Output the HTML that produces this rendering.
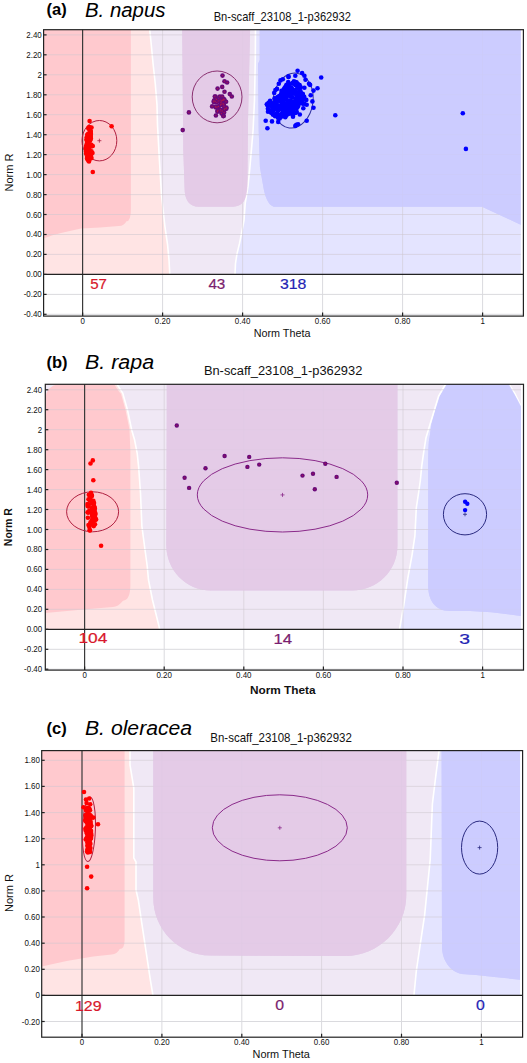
<!DOCTYPE html>
<html><head><meta charset="utf-8"><style>
html,body{margin:0;padding:0;background:#fff;width:527px;height:1063px;overflow:hidden}
svg{display:block}
text{font-family:"Liberation Sans",sans-serif}
</style></head><body>
<svg width="527" height="1063" viewBox="0 0 527 1063">
<rect width="527" height="1063" fill="#fff"/>
<clipPath id="ca"><rect x="43.6" y="29.7" width="479.8" height="244.7"/></clipPath>
<g clip-path="url(#ca)">
<rect x="43.6" y="29.7" width="479.8" height="244.7" fill="#F0E8F5"/>
<polygon points="43.6,29.7 149.7,29.7 150.5,37.0 151.4,46.0 153.1,64.0 155.3,84.0 157.0,105.0 157.5,125.0 159.4,160.0 161.5,195.0 164.9,226.3 167.6,245.0 169.0,260.0 169.8,274.4 43.6,274.4" fill="#FFE4E4" />
<polygon points="523.4,29.7 255.5,29.7 255.3,60.0 254.5,100.0 253.1,130.0 251.4,150.3 249.7,169.5 248.0,186.4 245.2,203.4 244.0,220.3 241.2,235.0 239.5,243.5 237.0,253.8 235.5,263.5 235.0,274.4 523.4,274.4" fill="#E4E4FF" />
<path d="M43.6,29.7 L130.9,29.7 L130.9,209 Q130.9,221.3 126.5,221.3 Q124,226 118.9,226 L100,227.4 L81,228.5 L62,232.7 L52.5,235.2 L43.6,238.4 Z" fill="#FFC9CE" />
<path d="M182.2,29.7 L250.1,29.7 L248,120 L247.4,185 Q247.4,206.7 232.8,206.7 L199,206.7 Q184.6,206.7 184.6,188 L183.3,150 Z" fill="#E3CBE7" />
<path d="M259.7,29.7 L523.4,29.7 L523.4,226 L482,206.7 L273.7,206.7 Q266,204 263.2,186 L259.9,167 L258.7,130 L258,64 L259.7,60 Z" fill="#CCCCFF" />
<polyline points="149.7,29.7 150.5,37.0 151.4,46.0 153.1,64.0 155.3,84.0 157.0,105.0 157.5,125.0 159.4,160.0 161.5,195.0 164.9,226.3 167.6,245.0 169.0,260.0 169.8,274.4" fill="none" stroke="#FFFFFF" stroke-width="1.6" />
<polyline points="255.5,29.7 255.3,60.0 254.5,100.0 253.1,130.0 251.4,150.3 249.7,169.5 248.0,186.4 245.2,203.4 244.0,220.3 241.2,235.0 239.5,243.5 237.0,253.8 235.5,263.5 235.0,274.4" fill="none" stroke="#FFFFFF" stroke-width="1.6" />
<rect x="520.9" y="29.7" width="2.5" height="244.7" fill="#fff"/>
</g>
<line x1="43.6" y1="34.9" x2="523.4" y2="34.9" stroke="#CFC8D0" stroke-width="1" opacity="0.55"/>
<line x1="43.6" y1="54.8" x2="523.4" y2="54.8" stroke="#CFC8D0" stroke-width="1" opacity="0.55"/>
<line x1="43.6" y1="74.8" x2="523.4" y2="74.8" stroke="#CFC8D0" stroke-width="1" opacity="0.55"/>
<line x1="43.6" y1="94.8" x2="523.4" y2="94.8" stroke="#CFC8D0" stroke-width="1" opacity="0.55"/>
<line x1="43.6" y1="114.7" x2="523.4" y2="114.7" stroke="#CFC8D0" stroke-width="1" opacity="0.55"/>
<line x1="43.6" y1="134.7" x2="523.4" y2="134.7" stroke="#CFC8D0" stroke-width="1" opacity="0.55"/>
<line x1="43.6" y1="154.6" x2="523.4" y2="154.6" stroke="#CFC8D0" stroke-width="1" opacity="0.55"/>
<line x1="43.6" y1="174.6" x2="523.4" y2="174.6" stroke="#CFC8D0" stroke-width="1" opacity="0.55"/>
<line x1="43.6" y1="194.6" x2="523.4" y2="194.6" stroke="#CFC8D0" stroke-width="1" opacity="0.55"/>
<line x1="43.6" y1="214.5" x2="523.4" y2="214.5" stroke="#CFC8D0" stroke-width="1" opacity="0.55"/>
<line x1="43.6" y1="234.5" x2="523.4" y2="234.5" stroke="#CFC8D0" stroke-width="1" opacity="0.55"/>
<line x1="43.6" y1="254.4" x2="523.4" y2="254.4" stroke="#CFC8D0" stroke-width="1" opacity="0.55"/>
<line x1="43.6" y1="294.4" x2="523.4" y2="294.4" stroke="#DADADE" stroke-width="1"/>
<line x1="43.6" y1="314.3" x2="523.4" y2="314.3" stroke="#DADADE" stroke-width="1"/>
<line x1="162.6" y1="29.7" x2="162.6" y2="274.4" stroke="#CFC8D0" stroke-width="1" opacity="0.55"/>
<line x1="162.6" y1="274.4" x2="162.6" y2="316.1" stroke="#DADADE" stroke-width="1"/>
<line x1="242.6" y1="29.7" x2="242.6" y2="274.4" stroke="#CFC8D0" stroke-width="1" opacity="0.55"/>
<line x1="242.6" y1="274.4" x2="242.6" y2="316.1" stroke="#DADADE" stroke-width="1"/>
<line x1="322.6" y1="29.7" x2="322.6" y2="274.4" stroke="#CFC8D0" stroke-width="1" opacity="0.55"/>
<line x1="322.6" y1="274.4" x2="322.6" y2="316.1" stroke="#DADADE" stroke-width="1"/>
<line x1="402.6" y1="29.7" x2="402.6" y2="274.4" stroke="#CFC8D0" stroke-width="1" opacity="0.55"/>
<line x1="402.6" y1="274.4" x2="402.6" y2="316.1" stroke="#DADADE" stroke-width="1"/>
<line x1="482.6" y1="29.7" x2="482.6" y2="274.4" stroke="#CFC8D0" stroke-width="1" opacity="0.55"/>
<line x1="482.6" y1="274.4" x2="482.6" y2="316.1" stroke="#DADADE" stroke-width="1"/>
<g clip-path="url(#ca)">
<path d="M182.2,29.7 L250.1,29.7 L248,120 L247.4,185 Q247.4,206.7 232.8,206.7 L199,206.7 Q184.6,206.7 184.6,188 L183.3,150 Z" fill="#E3CBE7" opacity="0.8"/>
<path d="M259.7,29.7 L523.4,29.7 L523.4,226 L482,206.7 L273.7,206.7 Q266,204 263.2,186 L259.9,167 L258.7,130 L258,64 L259.7,60 Z" fill="#CCCCFF" opacity="0.8"/>
<rect x="520.9" y="29.7" width="2.5" height="244.7" fill="#fff"/>
</g>
<line x1="82.6" y1="29.7" x2="82.6" y2="316.1" stroke="#3a3a3a" stroke-width="1.2"/>
<line x1="43.6" y1="274.4" x2="523.4" y2="274.4" stroke="#222" stroke-width="1.3"/>
<ellipse cx="99.4" cy="140.7" rx="17.4" ry="20.2" transform="rotate(0.0 99.4 140.7)" fill="none" stroke="#B02040" stroke-width="1"/>
<path d="M97.4 140.7h4M99.4 138.7v4" stroke="#B02040" stroke-width="0.8"/>
<ellipse cx="217.1" cy="96.9" rx="24.9" ry="25.9" transform="rotate(0.0 217.1 96.9)" fill="none" stroke="#8A3070" stroke-width="1"/>
<path d="M215.1 96.9h4M217.1 94.9v4" stroke="#8A3070" stroke-width="0.8"/>
<ellipse cx="293.0" cy="100.6" rx="20.0" ry="27.6" transform="rotate(8.0 293.0 100.6)" fill="none" stroke="#3030A0" stroke-width="1"/>
<path d="M291.0 100.6h4M293.0 98.6v4" stroke="#3030A0" stroke-width="0.8"/>
<circle cx="89.3" cy="151.7" r="2.3" fill="#FF0000"/>
<circle cx="89.6" cy="154.0" r="2.3" fill="#FF0000"/>
<circle cx="90.7" cy="131.4" r="2.3" fill="#FF0000"/>
<circle cx="89.4" cy="128.7" r="2.3" fill="#FF0000"/>
<circle cx="86.9" cy="145.6" r="2.3" fill="#FF0000"/>
<circle cx="86.1" cy="153.8" r="2.3" fill="#FF0000"/>
<circle cx="87.4" cy="159.2" r="2.3" fill="#FF0000"/>
<circle cx="90.6" cy="134.0" r="2.3" fill="#FF0000"/>
<circle cx="90.5" cy="146.4" r="2.3" fill="#FF0000"/>
<circle cx="88.6" cy="128.4" r="2.3" fill="#FF0000"/>
<circle cx="90.4" cy="153.3" r="2.3" fill="#FF0000"/>
<circle cx="89.9" cy="144.3" r="2.3" fill="#FF0000"/>
<circle cx="88.2" cy="149.4" r="2.3" fill="#FF0000"/>
<circle cx="90.5" cy="158.6" r="2.3" fill="#FF0000"/>
<circle cx="87.5" cy="147.6" r="2.3" fill="#FF0000"/>
<circle cx="86.7" cy="149.7" r="2.3" fill="#FF0000"/>
<circle cx="86.3" cy="147.8" r="2.3" fill="#FF0000"/>
<circle cx="90.2" cy="133.0" r="2.3" fill="#FF0000"/>
<circle cx="90.6" cy="135.0" r="2.3" fill="#FF0000"/>
<circle cx="87.1" cy="156.9" r="2.3" fill="#FF0000"/>
<circle cx="90.7" cy="138.2" r="2.3" fill="#FF0000"/>
<circle cx="87.9" cy="138.1" r="2.3" fill="#FF0000"/>
<circle cx="89.6" cy="139.3" r="2.3" fill="#FF0000"/>
<circle cx="87.8" cy="141.9" r="2.3" fill="#FF0000"/>
<circle cx="90.8" cy="156.8" r="2.3" fill="#FF0000"/>
<circle cx="87.4" cy="149.9" r="2.3" fill="#FF0000"/>
<circle cx="90.9" cy="134.0" r="2.3" fill="#FF0000"/>
<circle cx="90.4" cy="155.2" r="2.3" fill="#FF0000"/>
<circle cx="91.4" cy="144.9" r="2.3" fill="#FF0000"/>
<circle cx="89.2" cy="149.7" r="2.3" fill="#FF0000"/>
<circle cx="91.0" cy="153.2" r="2.3" fill="#FF0000"/>
<circle cx="87.3" cy="149.5" r="2.3" fill="#FF0000"/>
<circle cx="86.7" cy="139.8" r="2.3" fill="#FF0000"/>
<circle cx="90.5" cy="131.8" r="2.3" fill="#FF0000"/>
<circle cx="87.3" cy="145.3" r="2.3" fill="#FF0000"/>
<circle cx="90.8" cy="138.4" r="2.3" fill="#FF0000"/>
<circle cx="88.8" cy="139.6" r="2.3" fill="#FF0000"/>
<circle cx="87.4" cy="148.7" r="2.3" fill="#FF0000"/>
<circle cx="87.3" cy="141.8" r="2.3" fill="#FF0000"/>
<circle cx="89.0" cy="148.0" r="2.3" fill="#FF0000"/>
<circle cx="88.4" cy="134.3" r="2.3" fill="#FF0000"/>
<circle cx="87.2" cy="134.8" r="2.3" fill="#FF0000"/>
<circle cx="88.0" cy="143.7" r="2.3" fill="#FF0000"/>
<circle cx="86.1" cy="151.6" r="2.3" fill="#FF0000"/>
<circle cx="88.8" cy="154.9" r="2.3" fill="#FF0000"/>
<circle cx="88.3" cy="133.9" r="2.3" fill="#FF0000"/>
<circle cx="87.7" cy="145.6" r="2.3" fill="#FF0000"/>
<circle cx="89.0" cy="128.8" r="2.3" fill="#FF0000"/>
<circle cx="90.2" cy="133.3" r="2.3" fill="#FF0000"/>
<circle cx="88.5" cy="127.9" r="2.3" fill="#FF0000"/>
<circle cx="89.8" cy="133.8" r="2.3" fill="#FF0000"/>
<circle cx="89.8" cy="140.5" r="2.3" fill="#FF0000"/>
<circle cx="90.4" cy="136.9" r="2.3" fill="#FF0000"/>
<circle cx="92.0" cy="146.1" r="2.3" fill="#FF0000"/>
<circle cx="86.2" cy="149.8" r="2.3" fill="#FF0000"/>
<circle cx="88.1" cy="147.0" r="2.3" fill="#FF0000"/>
<circle cx="85.9" cy="148.3" r="2.3" fill="#FF0000"/>
<circle cx="89.7" cy="138.2" r="2.3" fill="#FF0000"/>
<circle cx="88.8" cy="136.1" r="2.3" fill="#FF0000"/>
<circle cx="87.1" cy="149.3" r="2.3" fill="#FF0000"/>
<circle cx="86.7" cy="137.2" r="2.3" fill="#FF0000"/>
<circle cx="90.2" cy="140.3" r="2.3" fill="#FF0000"/>
<circle cx="90.9" cy="155.4" r="2.3" fill="#FF0000"/>
<circle cx="89.5" cy="127.0" r="2.3" fill="#FF0000"/>
<circle cx="88.5" cy="140.2" r="2.3" fill="#FF0000"/>
<circle cx="90.7" cy="136.5" r="2.3" fill="#FF0000"/>
<circle cx="88.5" cy="158.1" r="2.3" fill="#FF0000"/>
<circle cx="88.8" cy="127.9" r="2.3" fill="#FF0000"/>
<circle cx="91.5" cy="151.2" r="2.3" fill="#FF0000"/>
<circle cx="89.9" cy="131.7" r="2.3" fill="#FF0000"/>
<circle cx="86.5" cy="139.8" r="2.3" fill="#FF0000"/>
<circle cx="87.2" cy="158.3" r="2.3" fill="#FF0000"/>
<circle cx="90.6" cy="131.0" r="2.3" fill="#FF0000"/>
<circle cx="86.2" cy="145.8" r="2.3" fill="#FF0000"/>
<circle cx="88.4" cy="160.8" r="2.3" fill="#FF0000"/>
<circle cx="89.2" cy="134.6" r="2.3" fill="#FF0000"/>
<circle cx="89.4" cy="146.1" r="2.3" fill="#FF0000"/>
<circle cx="86.9" cy="143.4" r="2.3" fill="#FF0000"/>
<circle cx="88.6" cy="134.0" r="2.3" fill="#FF0000"/>
<circle cx="87.9" cy="149.5" r="2.3" fill="#FF0000"/>
<circle cx="217.6" cy="111.0" r="2.3" fill="#6A0A7A"/>
<circle cx="223.8" cy="104.6" r="2.3" fill="#6A0A7A"/>
<circle cx="223.8" cy="100.5" r="2.3" fill="#6A0A7A"/>
<circle cx="213.9" cy="101.5" r="2.3" fill="#6A0A7A"/>
<circle cx="217.1" cy="106.9" r="2.3" fill="#6A0A7A"/>
<circle cx="215.7" cy="98.3" r="2.3" fill="#6A0A7A"/>
<circle cx="222.1" cy="100.7" r="2.3" fill="#6A0A7A"/>
<circle cx="224.4" cy="99.5" r="2.3" fill="#6A0A7A"/>
<circle cx="223.7" cy="116.0" r="2.3" fill="#6A0A7A"/>
<circle cx="226.3" cy="108.7" r="2.3" fill="#6A0A7A"/>
<circle cx="224.5" cy="109.6" r="2.3" fill="#6A0A7A"/>
<circle cx="224.1" cy="112.4" r="2.3" fill="#6A0A7A"/>
<circle cx="221.5" cy="113.6" r="2.3" fill="#6A0A7A"/>
<circle cx="220.6" cy="104.8" r="2.3" fill="#6A0A7A"/>
<circle cx="222.1" cy="100.4" r="2.3" fill="#6A0A7A"/>
<circle cx="226.1" cy="101.7" r="2.3" fill="#6A0A7A"/>
<circle cx="222.3" cy="110.9" r="2.3" fill="#6A0A7A"/>
<circle cx="215.4" cy="96.6" r="2.3" fill="#6A0A7A"/>
<circle cx="220.4" cy="109.5" r="2.3" fill="#6A0A7A"/>
<circle cx="224.3" cy="109.0" r="2.3" fill="#6A0A7A"/>
<circle cx="218.5" cy="106.4" r="2.3" fill="#6A0A7A"/>
<circle cx="217.5" cy="111.7" r="2.3" fill="#6A0A7A"/>
<circle cx="223.5" cy="99.0" r="2.3" fill="#6A0A7A"/>
<circle cx="216.8" cy="102.3" r="2.3" fill="#6A0A7A"/>
<circle cx="220.9" cy="102.7" r="2.3" fill="#6A0A7A"/>
<circle cx="223.1" cy="103.6" r="2.3" fill="#6A0A7A"/>
<circle cx="221.2" cy="101.8" r="2.3" fill="#6A0A7A"/>
<circle cx="220.6" cy="105.0" r="2.3" fill="#6A0A7A"/>
<circle cx="223.3" cy="99.1" r="2.3" fill="#6A0A7A"/>
<circle cx="215.9" cy="107.4" r="2.3" fill="#6A0A7A"/>
<circle cx="216.5" cy="99.4" r="2.3" fill="#6A0A7A"/>
<circle cx="219.8" cy="96.6" r="2.3" fill="#6A0A7A"/>
<circle cx="226.4" cy="107.6" r="2.3" fill="#6A0A7A"/>
<circle cx="215.2" cy="101.4" r="2.3" fill="#6A0A7A"/>
<circle cx="218.2" cy="100.9" r="2.3" fill="#6A0A7A"/>
<circle cx="223.2" cy="99.6" r="2.3" fill="#6A0A7A"/>
<circle cx="220.1" cy="100.1" r="2.3" fill="#6A0A7A"/>
<circle cx="221.8" cy="104.2" r="2.3" fill="#6A0A7A"/>
<circle cx="215.3" cy="106.5" r="2.3" fill="#6A0A7A"/>
<circle cx="213.8" cy="102.0" r="2.3" fill="#6A0A7A"/>
<circle cx="218.0" cy="110.3" r="2.3" fill="#6A0A7A"/>
<circle cx="225.0" cy="108.4" r="2.3" fill="#6A0A7A"/>
<circle cx="220.9" cy="110.9" r="2.3" fill="#6A0A7A"/>
<circle cx="224.0" cy="106.2" r="2.3" fill="#6A0A7A"/>
<circle cx="214.0" cy="100.6" r="2.3" fill="#6A0A7A"/>
<circle cx="217.6" cy="111.0" r="0.6" fill="#B01848"/>
<circle cx="223.8" cy="104.6" r="0.6" fill="#B01848"/>
<circle cx="223.8" cy="100.5" r="0.6" fill="#B01848"/>
<circle cx="213.9" cy="101.5" r="0.6" fill="#B01848"/>
<circle cx="217.1" cy="106.9" r="0.6" fill="#B01848"/>
<circle cx="215.7" cy="98.3" r="0.6" fill="#B01848"/>
<circle cx="222.1" cy="100.7" r="0.6" fill="#B01848"/>
<circle cx="224.4" cy="99.5" r="0.6" fill="#B01848"/>
<circle cx="223.7" cy="116.0" r="0.6" fill="#B01848"/>
<circle cx="226.3" cy="108.7" r="0.6" fill="#B01848"/>
<circle cx="224.5" cy="109.6" r="0.6" fill="#B01848"/>
<circle cx="224.1" cy="112.4" r="0.6" fill="#B01848"/>
<circle cx="221.5" cy="113.6" r="0.6" fill="#B01848"/>
<circle cx="220.6" cy="104.8" r="0.6" fill="#B01848"/>
<circle cx="222.1" cy="100.4" r="0.6" fill="#B01848"/>
<circle cx="226.1" cy="101.7" r="0.6" fill="#B01848"/>
<circle cx="222.3" cy="110.9" r="0.6" fill="#B01848"/>
<circle cx="215.4" cy="96.6" r="0.6" fill="#B01848"/>
<circle cx="220.4" cy="109.5" r="0.6" fill="#B01848"/>
<circle cx="224.3" cy="109.0" r="0.6" fill="#B01848"/>
<circle cx="218.5" cy="106.4" r="0.6" fill="#B01848"/>
<circle cx="217.5" cy="111.7" r="0.6" fill="#B01848"/>
<circle cx="223.5" cy="99.0" r="0.6" fill="#B01848"/>
<circle cx="216.8" cy="102.3" r="0.6" fill="#B01848"/>
<circle cx="220.9" cy="102.7" r="0.6" fill="#B01848"/>
<circle cx="223.1" cy="103.6" r="0.6" fill="#B01848"/>
<circle cx="221.2" cy="101.8" r="0.6" fill="#B01848"/>
<circle cx="220.6" cy="105.0" r="0.6" fill="#B01848"/>
<circle cx="223.3" cy="99.1" r="0.6" fill="#B01848"/>
<circle cx="215.9" cy="107.4" r="0.6" fill="#B01848"/>
<circle cx="216.5" cy="99.4" r="0.6" fill="#B01848"/>
<circle cx="219.8" cy="96.6" r="0.6" fill="#B01848"/>
<circle cx="226.4" cy="107.6" r="0.6" fill="#B01848"/>
<circle cx="215.2" cy="101.4" r="0.6" fill="#B01848"/>
<circle cx="218.2" cy="100.9" r="0.6" fill="#B01848"/>
<circle cx="223.2" cy="99.6" r="0.6" fill="#B01848"/>
<circle cx="220.1" cy="100.1" r="0.6" fill="#B01848"/>
<circle cx="221.8" cy="104.2" r="0.6" fill="#B01848"/>
<circle cx="215.3" cy="106.5" r="0.6" fill="#B01848"/>
<circle cx="213.8" cy="102.0" r="0.6" fill="#B01848"/>
<circle cx="218.0" cy="110.3" r="0.6" fill="#B01848"/>
<circle cx="225.0" cy="108.4" r="0.6" fill="#B01848"/>
<circle cx="220.9" cy="110.9" r="0.6" fill="#B01848"/>
<circle cx="224.0" cy="106.2" r="0.6" fill="#B01848"/>
<circle cx="214.0" cy="100.6" r="0.6" fill="#B01848"/>
<circle cx="281.0" cy="116.1" r="2.3" fill="#0000FF"/>
<circle cx="298.7" cy="86.4" r="2.3" fill="#0000FF"/>
<circle cx="302.2" cy="102.2" r="2.3" fill="#0000FF"/>
<circle cx="290.9" cy="107.1" r="2.3" fill="#0000FF"/>
<circle cx="297.7" cy="106.5" r="2.3" fill="#0000FF"/>
<circle cx="281.7" cy="98.1" r="2.3" fill="#0000FF"/>
<circle cx="292.3" cy="112.9" r="2.3" fill="#0000FF"/>
<circle cx="281.6" cy="95.4" r="2.3" fill="#0000FF"/>
<circle cx="286.4" cy="86.1" r="2.3" fill="#0000FF"/>
<circle cx="289.3" cy="95.8" r="2.3" fill="#0000FF"/>
<circle cx="285.3" cy="106.4" r="2.3" fill="#0000FF"/>
<circle cx="302.7" cy="103.1" r="2.3" fill="#0000FF"/>
<circle cx="283.6" cy="96.2" r="2.3" fill="#0000FF"/>
<circle cx="277.1" cy="109.9" r="2.3" fill="#0000FF"/>
<circle cx="294.4" cy="93.8" r="2.3" fill="#0000FF"/>
<circle cx="298.7" cy="88.3" r="2.3" fill="#0000FF"/>
<circle cx="289.4" cy="113.1" r="2.3" fill="#0000FF"/>
<circle cx="302.8" cy="94.4" r="2.3" fill="#0000FF"/>
<circle cx="282.1" cy="103.3" r="2.3" fill="#0000FF"/>
<circle cx="293.4" cy="92.9" r="2.3" fill="#0000FF"/>
<circle cx="291.3" cy="107.7" r="2.3" fill="#0000FF"/>
<circle cx="287.1" cy="85.4" r="2.3" fill="#0000FF"/>
<circle cx="292.6" cy="104.0" r="2.3" fill="#0000FF"/>
<circle cx="293.2" cy="90.9" r="2.3" fill="#0000FF"/>
<circle cx="294.6" cy="102.5" r="2.3" fill="#0000FF"/>
<circle cx="274.8" cy="104.5" r="2.3" fill="#0000FF"/>
<circle cx="287.3" cy="95.3" r="2.3" fill="#0000FF"/>
<circle cx="285.9" cy="90.1" r="2.3" fill="#0000FF"/>
<circle cx="301.2" cy="102.6" r="2.3" fill="#0000FF"/>
<circle cx="276.9" cy="106.0" r="2.3" fill="#0000FF"/>
<circle cx="292.3" cy="89.5" r="2.3" fill="#0000FF"/>
<circle cx="292.7" cy="105.8" r="2.3" fill="#0000FF"/>
<circle cx="277.6" cy="99.1" r="2.3" fill="#0000FF"/>
<circle cx="291.6" cy="103.5" r="2.3" fill="#0000FF"/>
<circle cx="283.5" cy="103.5" r="2.3" fill="#0000FF"/>
<circle cx="274.7" cy="98.3" r="2.3" fill="#0000FF"/>
<circle cx="277.3" cy="97.3" r="2.3" fill="#0000FF"/>
<circle cx="281.5" cy="90.7" r="2.3" fill="#0000FF"/>
<circle cx="274.9" cy="106.4" r="2.3" fill="#0000FF"/>
<circle cx="281.4" cy="94.3" r="2.3" fill="#0000FF"/>
<circle cx="288.9" cy="112.8" r="2.3" fill="#0000FF"/>
<circle cx="281.4" cy="93.4" r="2.3" fill="#0000FF"/>
<circle cx="292.2" cy="113.0" r="2.3" fill="#0000FF"/>
<circle cx="284.0" cy="110.7" r="2.3" fill="#0000FF"/>
<circle cx="280.9" cy="100.5" r="2.3" fill="#0000FF"/>
<circle cx="293.2" cy="109.8" r="2.3" fill="#0000FF"/>
<circle cx="279.7" cy="100.6" r="2.3" fill="#0000FF"/>
<circle cx="302.5" cy="93.8" r="2.3" fill="#0000FF"/>
<circle cx="302.1" cy="98.2" r="2.3" fill="#0000FF"/>
<circle cx="295.2" cy="91.7" r="2.3" fill="#0000FF"/>
<circle cx="279.1" cy="99.1" r="2.3" fill="#0000FF"/>
<circle cx="301.3" cy="102.2" r="2.3" fill="#0000FF"/>
<circle cx="292.7" cy="103.2" r="2.3" fill="#0000FF"/>
<circle cx="286.5" cy="84.7" r="2.3" fill="#0000FF"/>
<circle cx="291.9" cy="88.8" r="2.3" fill="#0000FF"/>
<circle cx="296.7" cy="82.6" r="2.3" fill="#0000FF"/>
<circle cx="300.7" cy="87.2" r="2.3" fill="#0000FF"/>
<circle cx="285.3" cy="92.4" r="2.3" fill="#0000FF"/>
<circle cx="292.6" cy="112.0" r="2.3" fill="#0000FF"/>
<circle cx="288.2" cy="114.0" r="2.3" fill="#0000FF"/>
<circle cx="290.5" cy="100.4" r="2.3" fill="#0000FF"/>
<circle cx="302.6" cy="94.5" r="2.3" fill="#0000FF"/>
<circle cx="283.9" cy="114.9" r="2.3" fill="#0000FF"/>
<circle cx="300.4" cy="91.1" r="2.3" fill="#0000FF"/>
<circle cx="286.9" cy="85.3" r="2.3" fill="#0000FF"/>
<circle cx="299.1" cy="97.0" r="2.3" fill="#0000FF"/>
<circle cx="282.0" cy="109.5" r="2.3" fill="#0000FF"/>
<circle cx="296.1" cy="107.4" r="2.3" fill="#0000FF"/>
<circle cx="268.5" cy="109.5" r="2.3" fill="#0000FF"/>
<circle cx="274.7" cy="103.3" r="2.3" fill="#0000FF"/>
<circle cx="273.4" cy="106.8" r="2.3" fill="#0000FF"/>
<circle cx="289.3" cy="101.0" r="2.3" fill="#0000FF"/>
<circle cx="285.1" cy="87.2" r="2.3" fill="#0000FF"/>
<circle cx="276.6" cy="99.1" r="2.3" fill="#0000FF"/>
<circle cx="286.2" cy="107.3" r="2.3" fill="#0000FF"/>
<circle cx="285.4" cy="103.6" r="2.3" fill="#0000FF"/>
<circle cx="294.6" cy="107.5" r="2.3" fill="#0000FF"/>
<circle cx="293.5" cy="107.7" r="2.3" fill="#0000FF"/>
<circle cx="293.2" cy="102.1" r="2.3" fill="#0000FF"/>
<circle cx="295.0" cy="104.7" r="2.3" fill="#0000FF"/>
<circle cx="283.5" cy="110.5" r="2.3" fill="#0000FF"/>
<circle cx="279.4" cy="118.1" r="2.3" fill="#0000FF"/>
<circle cx="284.2" cy="88.5" r="2.3" fill="#0000FF"/>
<circle cx="296.8" cy="92.3" r="2.3" fill="#0000FF"/>
<circle cx="279.8" cy="105.5" r="2.3" fill="#0000FF"/>
<circle cx="283.1" cy="104.6" r="2.3" fill="#0000FF"/>
<circle cx="270.3" cy="104.2" r="2.3" fill="#0000FF"/>
<circle cx="277.8" cy="117.4" r="2.3" fill="#0000FF"/>
<circle cx="296.1" cy="99.0" r="2.3" fill="#0000FF"/>
<circle cx="274.9" cy="116.1" r="2.3" fill="#0000FF"/>
<circle cx="279.6" cy="96.6" r="2.3" fill="#0000FF"/>
<circle cx="301.3" cy="93.4" r="2.3" fill="#0000FF"/>
<circle cx="302.6" cy="96.1" r="2.3" fill="#0000FF"/>
<circle cx="278.5" cy="110.5" r="2.3" fill="#0000FF"/>
<circle cx="283.6" cy="109.7" r="2.3" fill="#0000FF"/>
<circle cx="283.0" cy="100.9" r="2.3" fill="#0000FF"/>
<circle cx="286.8" cy="89.2" r="2.3" fill="#0000FF"/>
<circle cx="272.7" cy="103.2" r="2.3" fill="#0000FF"/>
<circle cx="281.5" cy="114.1" r="2.3" fill="#0000FF"/>
<circle cx="285.3" cy="117.2" r="2.3" fill="#0000FF"/>
<circle cx="285.4" cy="107.3" r="2.3" fill="#0000FF"/>
<circle cx="287.4" cy="110.2" r="2.3" fill="#0000FF"/>
<circle cx="299.5" cy="85.1" r="2.3" fill="#0000FF"/>
<circle cx="297.0" cy="84.9" r="2.3" fill="#0000FF"/>
<circle cx="276.1" cy="104.4" r="2.3" fill="#0000FF"/>
<circle cx="289.4" cy="104.3" r="2.3" fill="#0000FF"/>
<circle cx="274.9" cy="104.6" r="2.3" fill="#0000FF"/>
<circle cx="293.9" cy="81.2" r="2.3" fill="#0000FF"/>
<circle cx="270.9" cy="112.6" r="2.3" fill="#0000FF"/>
<circle cx="291.4" cy="89.9" r="2.3" fill="#0000FF"/>
<circle cx="287.2" cy="110.1" r="2.3" fill="#0000FF"/>
<circle cx="282.7" cy="105.9" r="2.3" fill="#0000FF"/>
<circle cx="297.7" cy="93.8" r="2.3" fill="#0000FF"/>
<circle cx="298.7" cy="100.1" r="2.3" fill="#0000FF"/>
<circle cx="289.7" cy="87.8" r="2.3" fill="#0000FF"/>
<circle cx="282.7" cy="112.6" r="2.3" fill="#0000FF"/>
<circle cx="272.9" cy="110.7" r="2.3" fill="#0000FF"/>
<circle cx="302.1" cy="98.4" r="2.3" fill="#0000FF"/>
<circle cx="277.0" cy="113.6" r="2.3" fill="#0000FF"/>
<circle cx="289.2" cy="106.1" r="2.3" fill="#0000FF"/>
<circle cx="279.7" cy="118.4" r="2.3" fill="#0000FF"/>
<circle cx="289.4" cy="84.0" r="2.3" fill="#0000FF"/>
<circle cx="298.9" cy="101.6" r="2.3" fill="#0000FF"/>
<circle cx="295.6" cy="82.0" r="2.3" fill="#0000FF"/>
<circle cx="282.9" cy="98.2" r="2.3" fill="#0000FF"/>
<circle cx="292.4" cy="83.3" r="2.3" fill="#0000FF"/>
<circle cx="286.3" cy="90.1" r="2.3" fill="#0000FF"/>
<circle cx="301.9" cy="103.0" r="2.3" fill="#0000FF"/>
<circle cx="301.2" cy="94.1" r="2.3" fill="#0000FF"/>
<circle cx="288.4" cy="109.0" r="2.3" fill="#0000FF"/>
<circle cx="276.3" cy="113.8" r="2.3" fill="#0000FF"/>
<circle cx="273.0" cy="109.2" r="2.3" fill="#0000FF"/>
<circle cx="279.6" cy="95.7" r="2.3" fill="#0000FF"/>
<circle cx="296.1" cy="82.6" r="2.3" fill="#0000FF"/>
<circle cx="295.5" cy="90.1" r="2.3" fill="#0000FF"/>
<circle cx="292.7" cy="97.4" r="2.3" fill="#0000FF"/>
<circle cx="300.1" cy="100.2" r="2.3" fill="#0000FF"/>
<circle cx="278.4" cy="99.5" r="2.3" fill="#0000FF"/>
<circle cx="285.7" cy="114.3" r="2.3" fill="#0000FF"/>
<circle cx="296.6" cy="108.5" r="2.3" fill="#0000FF"/>
<circle cx="288.2" cy="82.1" r="2.3" fill="#0000FF"/>
<circle cx="296.8" cy="112.1" r="2.3" fill="#0000FF"/>
<circle cx="293.0" cy="103.8" r="2.3" fill="#0000FF"/>
<circle cx="286.2" cy="111.2" r="2.3" fill="#0000FF"/>
<circle cx="273.3" cy="108.3" r="2.3" fill="#0000FF"/>
<circle cx="299.9" cy="92.1" r="2.3" fill="#0000FF"/>
<circle cx="287.1" cy="103.1" r="2.3" fill="#0000FF"/>
<circle cx="284.0" cy="92.8" r="2.3" fill="#0000FF"/>
<circle cx="296.1" cy="101.7" r="2.3" fill="#0000FF"/>
<circle cx="282.2" cy="116.5" r="2.3" fill="#0000FF"/>
<circle cx="286.5" cy="115.3" r="2.3" fill="#0000FF"/>
<circle cx="299.3" cy="98.2" r="2.3" fill="#0000FF"/>
<circle cx="295.3" cy="113.0" r="2.3" fill="#0000FF"/>
<circle cx="290.2" cy="94.2" r="2.3" fill="#0000FF"/>
<circle cx="280.4" cy="108.1" r="2.3" fill="#0000FF"/>
<circle cx="282.9" cy="91.9" r="2.3" fill="#0000FF"/>
<circle cx="298.6" cy="100.4" r="2.3" fill="#0000FF"/>
<circle cx="287.6" cy="95.1" r="2.3" fill="#0000FF"/>
<circle cx="285.5" cy="99.4" r="2.3" fill="#0000FF"/>
<circle cx="286.6" cy="90.7" r="2.3" fill="#0000FF"/>
<circle cx="291.5" cy="101.7" r="2.3" fill="#0000FF"/>
<circle cx="269.2" cy="110.0" r="2.3" fill="#0000FF"/>
<circle cx="293.0" cy="83.0" r="2.3" fill="#0000FF"/>
<circle cx="304.3" cy="103.8" r="2.3" fill="#0000FF"/>
<circle cx="293.8" cy="105.2" r="2.3" fill="#0000FF"/>
<circle cx="275.7" cy="107.0" r="2.3" fill="#0000FF"/>
<circle cx="281.6" cy="108.8" r="2.3" fill="#0000FF"/>
<circle cx="291.5" cy="104.1" r="2.3" fill="#0000FF"/>
<circle cx="271.4" cy="106.1" r="2.3" fill="#0000FF"/>
<circle cx="286.5" cy="89.7" r="2.3" fill="#0000FF"/>
<circle cx="295.5" cy="85.2" r="2.3" fill="#0000FF"/>
<circle cx="280.8" cy="95.3" r="2.3" fill="#0000FF"/>
<circle cx="287.8" cy="104.1" r="2.3" fill="#0000FF"/>
<circle cx="286.1" cy="108.7" r="2.3" fill="#0000FF"/>
<circle cx="301.7" cy="99.8" r="2.3" fill="#0000FF"/>
<circle cx="275.1" cy="105.4" r="2.3" fill="#0000FF"/>
<circle cx="289.0" cy="109.4" r="2.3" fill="#0000FF"/>
<circle cx="287.7" cy="90.4" r="2.3" fill="#0000FF"/>
<circle cx="293.1" cy="109.9" r="2.3" fill="#0000FF"/>
<circle cx="296.9" cy="96.6" r="2.3" fill="#0000FF"/>
<circle cx="278.1" cy="114.5" r="2.3" fill="#0000FF"/>
<circle cx="288.2" cy="93.8" r="2.3" fill="#0000FF"/>
<circle cx="289.6" cy="92.0" r="2.3" fill="#0000FF"/>
<circle cx="281.5" cy="105.7" r="2.3" fill="#0000FF"/>
<circle cx="275.7" cy="100.9" r="2.3" fill="#0000FF"/>
<circle cx="293.3" cy="83.6" r="2.3" fill="#0000FF"/>
<circle cx="304.3" cy="98.8" r="2.3" fill="#0000FF"/>
<circle cx="304.2" cy="96.8" r="2.3" fill="#0000FF"/>
<circle cx="292.5" cy="109.3" r="2.3" fill="#0000FF"/>
<circle cx="286.7" cy="95.3" r="2.3" fill="#0000FF"/>
<circle cx="267.9" cy="108.7" r="2.3" fill="#0000FF"/>
<circle cx="299.0" cy="98.3" r="2.3" fill="#0000FF"/>
<circle cx="283.4" cy="90.3" r="2.3" fill="#0000FF"/>
<circle cx="279.9" cy="107.7" r="2.3" fill="#0000FF"/>
<circle cx="283.7" cy="111.7" r="2.3" fill="#0000FF"/>
<circle cx="286.1" cy="86.5" r="2.3" fill="#0000FF"/>
<circle cx="294.7" cy="103.7" r="2.3" fill="#0000FF"/>
<circle cx="291.4" cy="87.9" r="2.3" fill="#0000FF"/>
<circle cx="302.8" cy="103.6" r="2.3" fill="#0000FF"/>
<circle cx="275.3" cy="101.2" r="2.3" fill="#0000FF"/>
<circle cx="283.4" cy="112.5" r="2.3" fill="#0000FF"/>
<circle cx="272.8" cy="114.6" r="2.3" fill="#0000FF"/>
<circle cx="293.2" cy="109.3" r="2.3" fill="#0000FF"/>
<circle cx="299.4" cy="85.4" r="2.3" fill="#0000FF"/>
<circle cx="292.8" cy="91.5" r="2.3" fill="#0000FF"/>
<circle cx="291.8" cy="92.5" r="2.3" fill="#0000FF"/>
<circle cx="280.8" cy="107.0" r="2.3" fill="#0000FF"/>
<circle cx="297.6" cy="106.8" r="2.3" fill="#0000FF"/>
<circle cx="272.5" cy="111.3" r="2.3" fill="#0000FF"/>
<circle cx="270.0" cy="105.3" r="2.3" fill="#0000FF"/>
<circle cx="267.3" cy="105.1" r="2.3" fill="#0000FF"/>
<circle cx="299.8" cy="102.5" r="2.3" fill="#0000FF"/>
<circle cx="297.5" cy="87.5" r="2.3" fill="#0000FF"/>
<circle cx="288.1" cy="100.9" r="2.3" fill="#0000FF"/>
<circle cx="271.8" cy="110.7" r="2.3" fill="#0000FF"/>
<circle cx="291.9" cy="113.7" r="2.3" fill="#0000FF"/>
<circle cx="286.6" cy="92.2" r="2.3" fill="#0000FF"/>
<circle cx="285.1" cy="104.4" r="2.3" fill="#0000FF"/>
<circle cx="288.4" cy="87.1" r="2.3" fill="#0000FF"/>
<circle cx="295.7" cy="99.3" r="2.3" fill="#0000FF"/>
<circle cx="290.5" cy="95.7" r="2.3" fill="#0000FF"/>
<circle cx="301.8" cy="98.5" r="2.3" fill="#0000FF"/>
<circle cx="291.0" cy="113.3" r="2.3" fill="#0000FF"/>
<circle cx="287.2" cy="107.8" r="2.3" fill="#0000FF"/>
<circle cx="298.4" cy="92.5" r="2.3" fill="#0000FF"/>
<circle cx="298.2" cy="84.3" r="2.3" fill="#0000FF"/>
<circle cx="283.2" cy="92.6" r="2.3" fill="#0000FF"/>
<circle cx="299.1" cy="92.5" r="2.3" fill="#0000FF"/>
<circle cx="284.7" cy="91.3" r="2.3" fill="#0000FF"/>
<circle cx="300.8" cy="93.9" r="2.3" fill="#0000FF"/>
<circle cx="268.5" cy="102.8" r="2.3" fill="#0000FF"/>
<circle cx="270.1" cy="100.7" r="2.3" fill="#0000FF"/>
<circle cx="297.4" cy="102.6" r="2.3" fill="#0000FF"/>
<circle cx="279.2" cy="96.5" r="2.3" fill="#0000FF"/>
<circle cx="293.2" cy="82.7" r="2.3" fill="#0000FF"/>
<circle cx="290.3" cy="96.3" r="2.3" fill="#0000FF"/>
<circle cx="285.1" cy="92.5" r="2.3" fill="#0000FF"/>
<circle cx="285.4" cy="87.6" r="2.3" fill="#0000FF"/>
<circle cx="280.9" cy="116.1" r="2.3" fill="#0000FF"/>
<circle cx="273.5" cy="107.8" r="2.3" fill="#0000FF"/>
<circle cx="306.3" cy="99.9" r="2.3" fill="#0000FF"/>
<circle cx="279.8" cy="107.7" r="2.3" fill="#0000FF"/>
<circle cx="292.8" cy="114.9" r="2.3" fill="#0000FF"/>
<circle cx="274.9" cy="98.9" r="2.3" fill="#0000FF"/>
<circle cx="290.3" cy="90.5" r="2.3" fill="#0000FF"/>
<circle cx="301.0" cy="95.7" r="2.3" fill="#0000FF"/>
<circle cx="286.4" cy="98.9" r="2.3" fill="#0000FF"/>
<circle cx="289.7" cy="84.4" r="2.3" fill="#0000FF"/>
<circle cx="289.3" cy="109.3" r="2.3" fill="#0000FF"/>
<circle cx="289.1" cy="86.7" r="2.3" fill="#0000FF"/>
<circle cx="285.4" cy="93.0" r="2.3" fill="#0000FF"/>
<circle cx="284.7" cy="105.7" r="2.3" fill="#0000FF"/>
<circle cx="289.8" cy="89.5" r="2.3" fill="#0000FF"/>
<circle cx="279.6" cy="101.0" r="2.3" fill="#0000FF"/>
<circle cx="278.3" cy="96.9" r="2.3" fill="#0000FF"/>
<circle cx="289.7" cy="93.0" r="2.3" fill="#0000FF"/>
<circle cx="298.4" cy="105.5" r="2.3" fill="#0000FF"/>
<circle cx="292.7" cy="104.2" r="2.3" fill="#0000FF"/>
<circle cx="276.6" cy="103.5" r="2.3" fill="#0000FF"/>
<circle cx="276.1" cy="114.4" r="2.3" fill="#0000FF"/>
<circle cx="89.6" cy="121.0" r="2.3" fill="#FF0000"/>
<circle cx="111.6" cy="126.3" r="2.3" fill="#FF0000"/>
<circle cx="92.8" cy="172.0" r="2.3" fill="#FF0000"/>
<circle cx="91.5" cy="127.5" r="2.3" fill="#FF0000"/>
<circle cx="92.8" cy="146.0" r="2.3" fill="#FF0000"/>
<circle cx="92.5" cy="153.0" r="2.3" fill="#FF0000"/>
<circle cx="91.5" cy="158.0" r="2.3" fill="#FF0000"/>
<circle cx="89.0" cy="161.5" r="2.3" fill="#FF0000"/>
<circle cx="222.5" cy="75.6" r="2.3" fill="#6A0A7A"/>
<circle cx="224.5" cy="81.2" r="2.3" fill="#6A0A7A"/>
<circle cx="227.1" cy="82.5" r="2.3" fill="#6A0A7A"/>
<circle cx="217.6" cy="88.6" r="2.3" fill="#6A0A7A"/>
<circle cx="222.2" cy="86.9" r="2.3" fill="#6A0A7A"/>
<circle cx="224.5" cy="91.8" r="2.3" fill="#6A0A7A"/>
<circle cx="229.8" cy="94.0" r="2.3" fill="#6A0A7A"/>
<circle cx="231.8" cy="96.5" r="2.3" fill="#6A0A7A"/>
<circle cx="214.8" cy="96.5" r="2.3" fill="#6A0A7A"/>
<circle cx="222.2" cy="96.5" r="2.3" fill="#6A0A7A"/>
<circle cx="212.1" cy="106.4" r="2.3" fill="#6A0A7A"/>
<circle cx="215.9" cy="115.5" r="2.3" fill="#6A0A7A"/>
<circle cx="223.2" cy="116.1" r="2.3" fill="#6A0A7A"/>
<circle cx="188.9" cy="112.4" r="2.3" fill="#6A0A7A"/>
<circle cx="182.7" cy="130.1" r="2.3" fill="#6A0A7A"/>
<circle cx="222.5" cy="75.6" r="0.6" fill="#B01848"/>
<circle cx="224.5" cy="81.2" r="0.6" fill="#B01848"/>
<circle cx="227.1" cy="82.5" r="0.6" fill="#B01848"/>
<circle cx="217.6" cy="88.6" r="0.6" fill="#B01848"/>
<circle cx="222.2" cy="86.9" r="0.6" fill="#B01848"/>
<circle cx="224.5" cy="91.8" r="0.6" fill="#B01848"/>
<circle cx="229.8" cy="94.0" r="0.6" fill="#B01848"/>
<circle cx="231.8" cy="96.5" r="0.6" fill="#B01848"/>
<circle cx="214.8" cy="96.5" r="0.6" fill="#B01848"/>
<circle cx="222.2" cy="96.5" r="0.6" fill="#B01848"/>
<circle cx="212.1" cy="106.4" r="0.6" fill="#B01848"/>
<circle cx="215.9" cy="115.5" r="0.6" fill="#B01848"/>
<circle cx="223.2" cy="116.1" r="0.6" fill="#B01848"/>
<circle cx="188.9" cy="112.4" r="0.6" fill="#B01848"/>
<circle cx="182.7" cy="130.1" r="0.6" fill="#B01848"/>
<circle cx="297.6" cy="70.7" r="2.3" fill="#0000FF"/>
<circle cx="302.1" cy="73.0" r="2.3" fill="#0000FF"/>
<circle cx="304.4" cy="75.8" r="2.3" fill="#0000FF"/>
<circle cx="288.5" cy="77.0" r="2.3" fill="#0000FF"/>
<circle cx="295.3" cy="75.8" r="2.3" fill="#0000FF"/>
<circle cx="282.8" cy="79.2" r="2.3" fill="#0000FF"/>
<circle cx="280.5" cy="80.4" r="2.3" fill="#0000FF"/>
<circle cx="278.8" cy="83.8" r="2.3" fill="#0000FF"/>
<circle cx="305.5" cy="79.8" r="2.3" fill="#0000FF"/>
<circle cx="309.0" cy="83.8" r="2.3" fill="#0000FF"/>
<circle cx="310.1" cy="84.9" r="2.3" fill="#0000FF"/>
<circle cx="304.4" cy="87.8" r="2.3" fill="#0000FF"/>
<circle cx="313.5" cy="90.6" r="2.3" fill="#0000FF"/>
<circle cx="317.5" cy="88.3" r="2.3" fill="#0000FF"/>
<circle cx="310.7" cy="95.2" r="2.3" fill="#0000FF"/>
<circle cx="312.4" cy="101.4" r="2.3" fill="#0000FF"/>
<circle cx="313.5" cy="107.7" r="2.3" fill="#0000FF"/>
<circle cx="306.7" cy="104.8" r="2.3" fill="#0000FF"/>
<circle cx="303.3" cy="108.3" r="2.3" fill="#0000FF"/>
<circle cx="299.8" cy="114.5" r="2.3" fill="#0000FF"/>
<circle cx="306.7" cy="120.8" r="2.3" fill="#0000FF"/>
<circle cx="296.4" cy="124.8" r="2.3" fill="#0000FF"/>
<circle cx="298.1" cy="124.2" r="2.3" fill="#0000FF"/>
<circle cx="295.3" cy="125.9" r="2.3" fill="#0000FF"/>
<circle cx="293.0" cy="116.8" r="2.3" fill="#0000FF"/>
<circle cx="274.2" cy="92.9" r="2.3" fill="#0000FF"/>
<circle cx="275.4" cy="90.0" r="2.3" fill="#0000FF"/>
<circle cx="277.0" cy="88.9" r="2.3" fill="#0000FF"/>
<circle cx="266.8" cy="104.3" r="2.3" fill="#0000FF"/>
<circle cx="268.0" cy="111.7" r="2.3" fill="#0000FF"/>
<circle cx="265.7" cy="120.8" r="2.3" fill="#0000FF"/>
<circle cx="272.0" cy="121.4" r="2.3" fill="#0000FF"/>
<circle cx="267.4" cy="128.2" r="2.3" fill="#0000FF"/>
<circle cx="278.2" cy="121.9" r="2.3" fill="#0000FF"/>
<circle cx="288.5" cy="76.4" r="2.3" fill="#0000FF"/>
<circle cx="321.2" cy="77.5" r="2.3" fill="#0000FF"/>
<circle cx="335.3" cy="115.3" r="2.3" fill="#0000FF"/>
<circle cx="462.8" cy="113.2" r="2.3" fill="#0000FF"/>
<circle cx="465.9" cy="148.9" r="2.3" fill="#0000FF"/>
<rect x="43.6" y="29.7" width="479.8" height="286.4" fill="none" stroke="#222" stroke-width="1.2"/>
<line x1="43.6" y1="34.9" x2="46.6" y2="34.9" stroke="#222" stroke-width="1.2"/>
<text x="41.8" y="37.8" font-size="8.2" fill="#111" text-anchor="end" textLength="15.5" lengthAdjust="spacingAndGlyphs" >2.40</text>
<line x1="43.6" y1="54.8" x2="46.6" y2="54.8" stroke="#222" stroke-width="1.2"/>
<text x="41.8" y="57.8" font-size="8.2" fill="#111" text-anchor="end" textLength="15.5" lengthAdjust="spacingAndGlyphs" >2.20</text>
<line x1="43.6" y1="74.8" x2="46.6" y2="74.8" stroke="#222" stroke-width="1.2"/>
<text x="41.8" y="77.8" font-size="8.2" fill="#111" text-anchor="end" textLength="4.4" lengthAdjust="spacingAndGlyphs" >2</text>
<line x1="43.6" y1="94.8" x2="46.6" y2="94.8" stroke="#222" stroke-width="1.2"/>
<text x="41.8" y="97.7" font-size="8.2" fill="#111" text-anchor="end" textLength="15.5" lengthAdjust="spacingAndGlyphs" >1.80</text>
<line x1="43.6" y1="114.7" x2="46.6" y2="114.7" stroke="#222" stroke-width="1.2"/>
<text x="41.8" y="117.7" font-size="8.2" fill="#111" text-anchor="end" textLength="15.5" lengthAdjust="spacingAndGlyphs" >1.60</text>
<line x1="43.6" y1="134.7" x2="46.6" y2="134.7" stroke="#222" stroke-width="1.2"/>
<text x="41.8" y="137.6" font-size="8.2" fill="#111" text-anchor="end" textLength="15.5" lengthAdjust="spacingAndGlyphs" >1.40</text>
<line x1="43.6" y1="154.6" x2="46.6" y2="154.6" stroke="#222" stroke-width="1.2"/>
<text x="41.8" y="157.6" font-size="8.2" fill="#111" text-anchor="end" textLength="15.5" lengthAdjust="spacingAndGlyphs" >1.20</text>
<line x1="43.6" y1="174.6" x2="46.6" y2="174.6" stroke="#222" stroke-width="1.2"/>
<text x="41.8" y="177.6" font-size="8.2" fill="#111" text-anchor="end" textLength="15.5" lengthAdjust="spacingAndGlyphs" >1.00</text>
<line x1="43.6" y1="194.6" x2="46.6" y2="194.6" stroke="#222" stroke-width="1.2"/>
<text x="41.8" y="197.5" font-size="8.2" fill="#111" text-anchor="end" textLength="15.5" lengthAdjust="spacingAndGlyphs" >0.80</text>
<line x1="43.6" y1="214.5" x2="46.6" y2="214.5" stroke="#222" stroke-width="1.2"/>
<text x="41.8" y="217.5" font-size="8.2" fill="#111" text-anchor="end" textLength="15.5" lengthAdjust="spacingAndGlyphs" >0.60</text>
<line x1="43.6" y1="234.5" x2="46.6" y2="234.5" stroke="#222" stroke-width="1.2"/>
<text x="41.8" y="237.4" font-size="8.2" fill="#111" text-anchor="end" textLength="15.5" lengthAdjust="spacingAndGlyphs" >0.40</text>
<line x1="43.6" y1="254.4" x2="46.6" y2="254.4" stroke="#222" stroke-width="1.2"/>
<text x="41.8" y="257.4" font-size="8.2" fill="#111" text-anchor="end" textLength="15.5" lengthAdjust="spacingAndGlyphs" >0.20</text>
<line x1="43.6" y1="274.4" x2="46.6" y2="274.4" stroke="#222" stroke-width="1.2"/>
<text x="41.8" y="277.4" font-size="8.2" fill="#111" text-anchor="end" textLength="15.5" lengthAdjust="spacingAndGlyphs" >0.00</text>
<line x1="43.6" y1="294.4" x2="46.6" y2="294.4" stroke="#222" stroke-width="1.2"/>
<text x="41.8" y="297.3" font-size="8.2" fill="#111" text-anchor="end" textLength="18.1" lengthAdjust="spacingAndGlyphs" >-0.20</text>
<line x1="43.6" y1="314.3" x2="46.6" y2="314.3" stroke="#222" stroke-width="1.2"/>
<text x="41.8" y="317.3" font-size="8.2" fill="#111" text-anchor="end" textLength="18.1" lengthAdjust="spacingAndGlyphs" >-0.40</text>
<line x1="82.6" y1="316.1" x2="82.6" y2="312.6" stroke="#222" stroke-width="1.2"/>
<text x="82.6" y="324.2" font-size="8.2" fill="#111" text-anchor="middle" textLength="4.4" lengthAdjust="spacingAndGlyphs" >0</text>
<line x1="162.6" y1="316.1" x2="162.6" y2="312.6" stroke="#222" stroke-width="1.2"/>
<text x="162.6" y="324.2" font-size="8.2" fill="#111" text-anchor="middle" textLength="15.5" lengthAdjust="spacingAndGlyphs" >0.20</text>
<line x1="242.6" y1="316.1" x2="242.6" y2="312.6" stroke="#222" stroke-width="1.2"/>
<text x="242.6" y="324.2" font-size="8.2" fill="#111" text-anchor="middle" textLength="15.5" lengthAdjust="spacingAndGlyphs" >0.40</text>
<line x1="322.6" y1="316.1" x2="322.6" y2="312.6" stroke="#222" stroke-width="1.2"/>
<text x="322.6" y="324.2" font-size="8.2" fill="#111" text-anchor="middle" textLength="15.5" lengthAdjust="spacingAndGlyphs" >0.60</text>
<line x1="402.6" y1="316.1" x2="402.6" y2="312.6" stroke="#222" stroke-width="1.2"/>
<text x="402.6" y="324.2" font-size="8.2" fill="#111" text-anchor="middle" textLength="15.5" lengthAdjust="spacingAndGlyphs" >0.80</text>
<line x1="482.6" y1="316.1" x2="482.6" y2="312.6" stroke="#222" stroke-width="1.2"/>
<text x="482.6" y="324.2" font-size="8.2" fill="#111" text-anchor="middle" textLength="4.4" lengthAdjust="spacingAndGlyphs" >1</text>
<text x="90.2" y="288.8" font-size="14.0" fill="#D8182C" textLength="16.8" lengthAdjust="spacingAndGlyphs" stroke="#D8182C" stroke-width="0.2">57</text>
<text x="208.4" y="289.3" font-size="14.0" fill="#7A1E6E" textLength="16.9" lengthAdjust="spacingAndGlyphs" stroke="#7A1E6E" stroke-width="0.2">43</text>
<text x="280.0" y="289.3" font-size="14.0" fill="#2424B4" textLength="26.4" lengthAdjust="spacingAndGlyphs" stroke="#2424B4" stroke-width="0.2">318</text>
<text x="46.5" y="15.3" font-size="16.5" fill="#000" font-weight="bold" >(a)</text>
<text x="85.0" y="17.1" font-size="20.0" fill="#000" font-style="italic" textLength="80.5" lengthAdjust="spacingAndGlyphs" >B. napus</text>
<text x="213.7" y="20.6" font-size="12.2" fill="#111" textLength="137.2" lengthAdjust="spacingAndGlyphs" >Bn-scaff_23108_1-p362932</text>
<text x="0" y="0" font-size="11.0" fill="#111" text-anchor="middle" transform="translate(13.3 172.5) rotate(-90)">Norm R</text>
<text x="253.7" y="337.1" font-size="11.0" fill="#111" textLength="56.7" lengthAdjust="spacingAndGlyphs" >Norm Theta</text>
<clipPath id="cb"><rect x="45.3" y="384.3" width="478.2" height="245.0"/></clipPath>
<g clip-path="url(#cb)">
<rect x="45.3" y="384.3" width="478.2" height="245.0" fill="#F0E8F5"/>
<polygon points="45.3,384.3 117.0,384.3 122.7,393.0 127.5,410.0 131.7,430.0 134.6,440.0 137.2,453.3 138.6,466.6 140.5,493.0 141.9,526.3 144.5,546.0 147.2,566.0 148.5,580.0 152.5,600.0 158.7,625.0 159.7,629.3 45.3,629.3" fill="#FFE4E4" />
<polygon points="523.5,384.3 445.5,384.3 438.6,396.0 434.4,409.9 430.2,423.8 426.0,437.8 423.8,451.7 421.8,465.7 420.4,480.0 419.0,490.0 416.3,508.0 414.9,535.8 412.0,555.3 407.9,577.6 403.7,605.5 399.5,629.3 523.5,629.3" fill="#E4E4FF" />
<path d="M45.3,384.3 L58,384.3 Q47,386 45.3,398 Z" fill="#F0E8F5" />
<path d="M58,384.3 L114.2,384.3 Q119.9,393.4 121,394 L125.6,410.5 L129.5,429.4 L130.4,452 L130.4,584.7 Q130.4,600 123,600.7 Q118,606.9 113,607 L86,609.3 L45.3,613 L45.3,398 Q47,386 58,384.3 Z" fill="#FFC9CE" />
<path d="M166.8,384.3 L397.4,384.3 L397.4,546 C397.4,570.9 377.2,590.5 352,590.5 L211,590.5 C186,590.5 166.3,570 166.3,545 L166.8,400 Z" fill="#E3CBE7" />
<path d="M509,384.3 L523.5,384.3 L523.5,408 L521,406 Z" fill="#F0E8F5" />
<path d="M447,384.3 L509,384.3 L521,406 L521,616 L507.9,614.3 L491.6,612.2 L470,611.1 L450,611 C435,611 428.2,600 428.2,586 L428.2,460 Q428.5,440 429.5,437.8 L431.5,424 L435.5,410 L440,396 Z" fill="#CCCCFF" />
<polyline points="117.0,384.3 122.7,393.0 127.5,410.0 131.7,430.0 134.6,440.0 137.2,453.3 138.6,466.6 140.5,493.0 141.9,526.3 144.5,546.0 147.2,566.0 148.5,580.0 152.5,600.0 158.7,625.0 159.7,629.3" fill="none" stroke="#FFFFFF" stroke-width="1.6" />
<polyline points="445.5,384.3 438.6,396.0 434.4,409.9 430.2,423.8 426.0,437.8 423.8,451.7 421.8,465.7 420.4,480.0 419.0,490.0 416.3,508.0 414.9,535.8 412.0,555.3 407.9,577.6 403.7,605.5 399.5,629.3" fill="none" stroke="#FFFFFF" stroke-width="1.6" />
<polyline points="509.0,384.3 515.0,394.0 521.0,406.0" fill="none" stroke="#FFFFFF" stroke-width="1.6" />
<rect x="521.0" y="384.3" width="2.5" height="245.0" fill="#fff"/>
</g>
<line x1="45.3" y1="389.8" x2="523.5" y2="389.8" stroke="#CFC8D0" stroke-width="1" opacity="0.55"/>
<line x1="45.3" y1="409.7" x2="523.5" y2="409.7" stroke="#CFC8D0" stroke-width="1" opacity="0.55"/>
<line x1="45.3" y1="429.7" x2="523.5" y2="429.7" stroke="#CFC8D0" stroke-width="1" opacity="0.55"/>
<line x1="45.3" y1="449.7" x2="523.5" y2="449.7" stroke="#CFC8D0" stroke-width="1" opacity="0.55"/>
<line x1="45.3" y1="469.6" x2="523.5" y2="469.6" stroke="#CFC8D0" stroke-width="1" opacity="0.55"/>
<line x1="45.3" y1="489.6" x2="523.5" y2="489.6" stroke="#CFC8D0" stroke-width="1" opacity="0.55"/>
<line x1="45.3" y1="509.5" x2="523.5" y2="509.5" stroke="#CFC8D0" stroke-width="1" opacity="0.55"/>
<line x1="45.3" y1="529.5" x2="523.5" y2="529.5" stroke="#CFC8D0" stroke-width="1" opacity="0.55"/>
<line x1="45.3" y1="549.5" x2="523.5" y2="549.5" stroke="#CFC8D0" stroke-width="1" opacity="0.55"/>
<line x1="45.3" y1="569.4" x2="523.5" y2="569.4" stroke="#CFC8D0" stroke-width="1" opacity="0.55"/>
<line x1="45.3" y1="589.4" x2="523.5" y2="589.4" stroke="#CFC8D0" stroke-width="1" opacity="0.55"/>
<line x1="45.3" y1="609.3" x2="523.5" y2="609.3" stroke="#CFC8D0" stroke-width="1" opacity="0.55"/>
<line x1="45.3" y1="649.3" x2="523.5" y2="649.3" stroke="#DADADE" stroke-width="1"/>
<line x1="45.3" y1="669.2" x2="523.5" y2="669.2" stroke="#DADADE" stroke-width="1"/>
<line x1="164.2" y1="384.3" x2="164.2" y2="629.3" stroke="#CFC8D0" stroke-width="1" opacity="0.55"/>
<line x1="164.2" y1="629.3" x2="164.2" y2="670.1" stroke="#DADADE" stroke-width="1"/>
<line x1="243.8" y1="384.3" x2="243.8" y2="629.3" stroke="#CFC8D0" stroke-width="1" opacity="0.55"/>
<line x1="243.8" y1="629.3" x2="243.8" y2="670.1" stroke="#DADADE" stroke-width="1"/>
<line x1="323.4" y1="384.3" x2="323.4" y2="629.3" stroke="#CFC8D0" stroke-width="1" opacity="0.55"/>
<line x1="323.4" y1="629.3" x2="323.4" y2="670.1" stroke="#DADADE" stroke-width="1"/>
<line x1="403.0" y1="384.3" x2="403.0" y2="629.3" stroke="#CFC8D0" stroke-width="1" opacity="0.55"/>
<line x1="403.0" y1="629.3" x2="403.0" y2="670.1" stroke="#DADADE" stroke-width="1"/>
<line x1="482.6" y1="384.3" x2="482.6" y2="629.3" stroke="#CFC8D0" stroke-width="1" opacity="0.55"/>
<line x1="482.6" y1="629.3" x2="482.6" y2="670.1" stroke="#DADADE" stroke-width="1"/>
<g clip-path="url(#cb)">
<path d="M166.8,384.3 L397.4,384.3 L397.4,546 C397.4,570.9 377.2,590.5 352,590.5 L211,590.5 C186,590.5 166.3,570 166.3,545 L166.8,400 Z" fill="#E3CBE7" opacity="0.8"/>
<path d="M447,384.3 L509,384.3 L521,406 L521,616 L507.9,614.3 L491.6,612.2 L470,611.1 L450,611 C435,611 428.2,600 428.2,586 L428.2,460 Q428.5,440 429.5,437.8 L431.5,424 L435.5,410 L440,396 Z" fill="#CCCCFF" opacity="0.8"/>
<rect x="521.0" y="384.3" width="2.5" height="245.0" fill="#fff"/>
</g>
<line x1="84.6" y1="384.3" x2="84.6" y2="670.1" stroke="#3a3a3a" stroke-width="1.2"/>
<line x1="45.3" y1="629.3" x2="523.5" y2="629.3" stroke="#222" stroke-width="1.3"/>
<ellipse cx="92.6" cy="511.8" rx="26.0" ry="20.0" transform="rotate(0.0 92.6 511.8)" fill="none" stroke="#B02040" stroke-width="1"/>
<path d="M90.6 511.8h4M92.6 509.8v4" stroke="#B02040" stroke-width="0.8"/>
<ellipse cx="282.5" cy="494.9" rx="85.2" ry="37.1" transform="rotate(0.0 282.5 494.9)" fill="none" stroke="#8A2A8A" stroke-width="1"/>
<path d="M280.5 494.9h4M282.5 492.9v4" stroke="#8A2A8A" stroke-width="0.8"/>
<ellipse cx="465.0" cy="514.3" rx="21.6" ry="20.6" transform="rotate(0.0 465.0 514.3)" fill="none" stroke="#2A2A80" stroke-width="1"/>
<path d="M463.0 514.3h4M465.0 512.3v4" stroke="#2A2A80" stroke-width="0.8"/>
<circle cx="91.0" cy="492.9" r="2.3" fill="#FF0000"/>
<circle cx="90.4" cy="500.2" r="2.3" fill="#FF0000"/>
<circle cx="87.6" cy="506.0" r="2.3" fill="#FF0000"/>
<circle cx="91.7" cy="495.5" r="2.3" fill="#FF0000"/>
<circle cx="89.3" cy="526.9" r="2.3" fill="#FF0000"/>
<circle cx="93.8" cy="526.1" r="2.3" fill="#FF0000"/>
<circle cx="94.0" cy="517.4" r="2.3" fill="#FF0000"/>
<circle cx="91.8" cy="520.9" r="2.3" fill="#FF0000"/>
<circle cx="87.9" cy="517.8" r="2.3" fill="#FF0000"/>
<circle cx="95.0" cy="524.2" r="2.3" fill="#FF0000"/>
<circle cx="92.3" cy="512.0" r="2.3" fill="#FF0000"/>
<circle cx="94.7" cy="510.1" r="2.3" fill="#FF0000"/>
<circle cx="88.4" cy="506.4" r="2.3" fill="#FF0000"/>
<circle cx="88.5" cy="525.0" r="2.3" fill="#FF0000"/>
<circle cx="91.8" cy="495.4" r="2.3" fill="#FF0000"/>
<circle cx="88.8" cy="494.8" r="2.3" fill="#FF0000"/>
<circle cx="89.3" cy="510.5" r="2.3" fill="#FF0000"/>
<circle cx="94.2" cy="506.6" r="2.3" fill="#FF0000"/>
<circle cx="87.6" cy="512.3" r="2.3" fill="#FF0000"/>
<circle cx="93.2" cy="507.7" r="2.3" fill="#FF0000"/>
<circle cx="93.6" cy="503.2" r="2.3" fill="#FF0000"/>
<circle cx="94.9" cy="520.2" r="2.3" fill="#FF0000"/>
<circle cx="92.3" cy="516.4" r="2.3" fill="#FF0000"/>
<circle cx="93.4" cy="500.9" r="2.3" fill="#FF0000"/>
<circle cx="91.9" cy="523.4" r="2.3" fill="#FF0000"/>
<circle cx="93.7" cy="505.4" r="2.3" fill="#FF0000"/>
<circle cx="92.6" cy="510.4" r="2.3" fill="#FF0000"/>
<circle cx="94.0" cy="503.0" r="2.3" fill="#FF0000"/>
<circle cx="93.4" cy="520.9" r="2.3" fill="#FF0000"/>
<circle cx="88.9" cy="504.5" r="2.3" fill="#FF0000"/>
<circle cx="95.3" cy="514.4" r="2.3" fill="#FF0000"/>
<circle cx="90.6" cy="497.4" r="2.3" fill="#FF0000"/>
<circle cx="90.1" cy="496.1" r="2.3" fill="#FF0000"/>
<circle cx="91.9" cy="514.4" r="2.3" fill="#FF0000"/>
<circle cx="92.1" cy="519.7" r="2.3" fill="#FF0000"/>
<circle cx="90.5" cy="522.3" r="2.3" fill="#FF0000"/>
<circle cx="89.6" cy="530.2" r="2.3" fill="#FF0000"/>
<circle cx="94.9" cy="517.0" r="2.3" fill="#FF0000"/>
<circle cx="89.8" cy="499.7" r="2.3" fill="#FF0000"/>
<circle cx="94.4" cy="507.3" r="2.3" fill="#FF0000"/>
<circle cx="88.5" cy="499.3" r="2.3" fill="#FF0000"/>
<circle cx="94.8" cy="508.4" r="2.3" fill="#FF0000"/>
<circle cx="89.7" cy="499.6" r="2.3" fill="#FF0000"/>
<circle cx="94.8" cy="513.2" r="2.3" fill="#FF0000"/>
<circle cx="93.1" cy="525.2" r="2.3" fill="#FF0000"/>
<circle cx="92.6" cy="516.9" r="2.3" fill="#FF0000"/>
<circle cx="90.0" cy="530.4" r="2.3" fill="#FF0000"/>
<circle cx="87.5" cy="504.1" r="2.3" fill="#FF0000"/>
<circle cx="92.0" cy="507.9" r="2.3" fill="#FF0000"/>
<circle cx="96.1" cy="519.4" r="2.3" fill="#FF0000"/>
<circle cx="90.5" cy="500.3" r="2.3" fill="#FF0000"/>
<circle cx="89.8" cy="495.0" r="2.3" fill="#FF0000"/>
<circle cx="90.9" cy="493.9" r="2.3" fill="#FF0000"/>
<circle cx="91.5" cy="503.0" r="2.3" fill="#FF0000"/>
<circle cx="88.2" cy="512.6" r="2.3" fill="#FF0000"/>
<circle cx="92.8" cy="513.0" r="2.3" fill="#FF0000"/>
<circle cx="95.3" cy="513.1" r="2.3" fill="#FF0000"/>
<circle cx="90.8" cy="511.2" r="2.3" fill="#FF0000"/>
<circle cx="95.2" cy="518.0" r="2.3" fill="#FF0000"/>
<circle cx="91.8" cy="495.9" r="2.3" fill="#FF0000"/>
<circle cx="90.5" cy="463.5" r="2.3" fill="#FF0000"/>
<circle cx="92.8" cy="460.4" r="2.3" fill="#FF0000"/>
<circle cx="93.3" cy="480.3" r="2.3" fill="#FF0000"/>
<circle cx="101.1" cy="545.8" r="2.3" fill="#FF0000"/>
<circle cx="176.8" cy="425.5" r="2.2" fill="#6A0A7A"/>
<circle cx="184.6" cy="477.8" r="2.2" fill="#6A0A7A"/>
<circle cx="189.1" cy="487.9" r="2.2" fill="#6A0A7A"/>
<circle cx="205.5" cy="468.3" r="2.2" fill="#6A0A7A"/>
<circle cx="224.6" cy="456.0" r="2.2" fill="#6A0A7A"/>
<circle cx="249.2" cy="456.9" r="2.2" fill="#6A0A7A"/>
<circle cx="247.4" cy="466.9" r="2.2" fill="#6A0A7A"/>
<circle cx="259.2" cy="464.6" r="2.2" fill="#6A0A7A"/>
<circle cx="302.5" cy="475.6" r="2.2" fill="#6A0A7A"/>
<circle cx="313.0" cy="473.7" r="2.2" fill="#6A0A7A"/>
<circle cx="325.3" cy="463.7" r="2.2" fill="#6A0A7A"/>
<circle cx="336.6" cy="476.9" r="2.2" fill="#6A0A7A"/>
<circle cx="314.8" cy="489.2" r="2.2" fill="#6A0A7A"/>
<circle cx="396.8" cy="482.8" r="2.2" fill="#6A0A7A"/>
<circle cx="176.8" cy="425.5" r="0.6" fill="#B01848"/>
<circle cx="184.6" cy="477.8" r="0.6" fill="#B01848"/>
<circle cx="189.1" cy="487.9" r="0.6" fill="#B01848"/>
<circle cx="205.5" cy="468.3" r="0.6" fill="#B01848"/>
<circle cx="224.6" cy="456.0" r="0.6" fill="#B01848"/>
<circle cx="249.2" cy="456.9" r="0.6" fill="#B01848"/>
<circle cx="247.4" cy="466.9" r="0.6" fill="#B01848"/>
<circle cx="259.2" cy="464.6" r="0.6" fill="#B01848"/>
<circle cx="302.5" cy="475.6" r="0.6" fill="#B01848"/>
<circle cx="313.0" cy="473.7" r="0.6" fill="#B01848"/>
<circle cx="325.3" cy="463.7" r="0.6" fill="#B01848"/>
<circle cx="336.6" cy="476.9" r="0.6" fill="#B01848"/>
<circle cx="314.8" cy="489.2" r="0.6" fill="#B01848"/>
<circle cx="396.8" cy="482.8" r="0.6" fill="#B01848"/>
<circle cx="465.1" cy="501.8" r="2.2" fill="#0000FF"/>
<circle cx="467.3" cy="503.7" r="2.2" fill="#0000FF"/>
<circle cx="465.1" cy="510.1" r="2.2" fill="#0000FF"/>
<rect x="45.3" y="384.3" width="478.2" height="285.8" fill="none" stroke="#222" stroke-width="1.2"/>
<line x1="45.3" y1="389.8" x2="48.3" y2="389.8" stroke="#222" stroke-width="1.2"/>
<text x="42.2" y="392.7" font-size="8.2" fill="#111" text-anchor="end" textLength="15.5" lengthAdjust="spacingAndGlyphs" >2.40</text>
<line x1="45.3" y1="409.7" x2="48.3" y2="409.7" stroke="#222" stroke-width="1.2"/>
<text x="42.2" y="412.7" font-size="8.2" fill="#111" text-anchor="end" textLength="15.5" lengthAdjust="spacingAndGlyphs" >2.20</text>
<line x1="45.3" y1="429.7" x2="48.3" y2="429.7" stroke="#222" stroke-width="1.2"/>
<text x="42.2" y="432.7" font-size="8.2" fill="#111" text-anchor="end" textLength="4.4" lengthAdjust="spacingAndGlyphs" >2</text>
<line x1="45.3" y1="449.7" x2="48.3" y2="449.7" stroke="#222" stroke-width="1.2"/>
<text x="42.2" y="452.6" font-size="8.2" fill="#111" text-anchor="end" textLength="15.5" lengthAdjust="spacingAndGlyphs" >1.80</text>
<line x1="45.3" y1="469.6" x2="48.3" y2="469.6" stroke="#222" stroke-width="1.2"/>
<text x="42.2" y="472.6" font-size="8.2" fill="#111" text-anchor="end" textLength="15.5" lengthAdjust="spacingAndGlyphs" >1.60</text>
<line x1="45.3" y1="489.6" x2="48.3" y2="489.6" stroke="#222" stroke-width="1.2"/>
<text x="42.2" y="492.5" font-size="8.2" fill="#111" text-anchor="end" textLength="15.5" lengthAdjust="spacingAndGlyphs" >1.40</text>
<line x1="45.3" y1="509.5" x2="48.3" y2="509.5" stroke="#222" stroke-width="1.2"/>
<text x="42.2" y="512.5" font-size="8.2" fill="#111" text-anchor="end" textLength="15.5" lengthAdjust="spacingAndGlyphs" >1.20</text>
<line x1="45.3" y1="529.5" x2="48.3" y2="529.5" stroke="#222" stroke-width="1.2"/>
<text x="42.2" y="532.5" font-size="8.2" fill="#111" text-anchor="end" textLength="15.5" lengthAdjust="spacingAndGlyphs" >1.00</text>
<line x1="45.3" y1="549.5" x2="48.3" y2="549.5" stroke="#222" stroke-width="1.2"/>
<text x="42.2" y="552.4" font-size="8.2" fill="#111" text-anchor="end" textLength="15.5" lengthAdjust="spacingAndGlyphs" >0.80</text>
<line x1="45.3" y1="569.4" x2="48.3" y2="569.4" stroke="#222" stroke-width="1.2"/>
<text x="42.2" y="572.4" font-size="8.2" fill="#111" text-anchor="end" textLength="15.5" lengthAdjust="spacingAndGlyphs" >0.60</text>
<line x1="45.3" y1="589.4" x2="48.3" y2="589.4" stroke="#222" stroke-width="1.2"/>
<text x="42.2" y="592.3" font-size="8.2" fill="#111" text-anchor="end" textLength="15.5" lengthAdjust="spacingAndGlyphs" >0.40</text>
<line x1="45.3" y1="609.3" x2="48.3" y2="609.3" stroke="#222" stroke-width="1.2"/>
<text x="42.2" y="612.3" font-size="8.2" fill="#111" text-anchor="end" textLength="15.5" lengthAdjust="spacingAndGlyphs" >0.20</text>
<line x1="45.3" y1="629.3" x2="48.3" y2="629.3" stroke="#222" stroke-width="1.2"/>
<text x="42.2" y="632.3" font-size="8.2" fill="#111" text-anchor="end" textLength="15.5" lengthAdjust="spacingAndGlyphs" >0.00</text>
<line x1="45.3" y1="649.3" x2="48.3" y2="649.3" stroke="#222" stroke-width="1.2"/>
<text x="42.2" y="652.2" font-size="8.2" fill="#111" text-anchor="end" textLength="18.1" lengthAdjust="spacingAndGlyphs" >-0.20</text>
<line x1="45.3" y1="669.2" x2="48.3" y2="669.2" stroke="#222" stroke-width="1.2"/>
<text x="42.2" y="672.2" font-size="8.2" fill="#111" text-anchor="end" textLength="18.1" lengthAdjust="spacingAndGlyphs" >-0.40</text>
<line x1="84.6" y1="670.1" x2="84.6" y2="666.6" stroke="#222" stroke-width="1.2"/>
<text x="84.6" y="678.2" font-size="8.2" fill="#111" text-anchor="middle" textLength="4.4" lengthAdjust="spacingAndGlyphs" >0</text>
<line x1="164.2" y1="670.1" x2="164.2" y2="666.6" stroke="#222" stroke-width="1.2"/>
<text x="164.2" y="678.2" font-size="8.2" fill="#111" text-anchor="middle" textLength="15.5" lengthAdjust="spacingAndGlyphs" >0.20</text>
<line x1="243.8" y1="670.1" x2="243.8" y2="666.6" stroke="#222" stroke-width="1.2"/>
<text x="243.8" y="678.2" font-size="8.2" fill="#111" text-anchor="middle" textLength="15.5" lengthAdjust="spacingAndGlyphs" >0.40</text>
<line x1="323.4" y1="670.1" x2="323.4" y2="666.6" stroke="#222" stroke-width="1.2"/>
<text x="323.4" y="678.2" font-size="8.2" fill="#111" text-anchor="middle" textLength="15.5" lengthAdjust="spacingAndGlyphs" >0.60</text>
<line x1="403.0" y1="670.1" x2="403.0" y2="666.6" stroke="#222" stroke-width="1.2"/>
<text x="403.0" y="678.2" font-size="8.2" fill="#111" text-anchor="middle" textLength="15.5" lengthAdjust="spacingAndGlyphs" >0.80</text>
<line x1="482.6" y1="670.1" x2="482.6" y2="666.6" stroke="#222" stroke-width="1.2"/>
<text x="482.6" y="678.2" font-size="8.2" fill="#111" text-anchor="middle" textLength="4.4" lengthAdjust="spacingAndGlyphs" >1</text>
<text x="78.4" y="643.4" font-size="14.0" fill="#D8182C" textLength="28.9" lengthAdjust="spacingAndGlyphs" stroke="#D8182C" stroke-width="0.2">104</text>
<text x="273.4" y="643.6" font-size="14.0" fill="#7A1E6E" textLength="18.6" lengthAdjust="spacingAndGlyphs" stroke="#7A1E6E" stroke-width="0.2">14</text>
<text x="459.3" y="643.7" font-size="14.0" fill="#2424B4" textLength="10.8" lengthAdjust="spacingAndGlyphs" stroke="#2424B4" stroke-width="0.2">3</text>
<text x="46.5" y="367.8" font-size="16.5" fill="#000" font-weight="bold" >(b)</text>
<text x="85.0" y="368.5" font-size="20.0" fill="#000" font-style="italic" textLength="69.1" lengthAdjust="spacingAndGlyphs" >B. rapa</text>
<text x="203.9" y="375.0" font-size="12.0" fill="#111" textLength="158.4" lengthAdjust="spacingAndGlyphs" >Bn-scaff_23108_1-p362932</text>
<text x="0" y="0" font-size="10.5" fill="#111" text-anchor="middle" font-weight="bold" transform="translate(12.3 527.2) rotate(-90)">Norm R</text>
<text x="249.9" y="693.8" font-size="11.5" fill="#111" font-weight="bold" textLength="65.6" lengthAdjust="spacingAndGlyphs" >Norm Theta</text>
<clipPath id="cc"><rect x="41.7" y="750.6" width="480.9" height="244.8"/></clipPath>
<g clip-path="url(#cc)">
<rect x="41.7" y="750.6" width="480.9" height="244.8" fill="#F0E8F5"/>
<polygon points="41.7,750.6 130.0,750.4 130.0,765.0 133.8,788.0 133.8,858.0 136.0,862.0 136.0,890.0 138.3,900.0 142.3,926.6 146.3,953.1 150.3,979.7 152.9,995.1 41.7,995.4" fill="#FFE4E4" />
<polygon points="522.6,750.6 439.1,750.4 435.8,775.9 432.4,803.8 430.2,859.6 427.4,887.5 424.6,915.4 420.4,943.3 416.3,971.2 414.0,995.1 522.6,995.4" fill="#E4E4FF" />
<path d="M41.7,750.4 L124.6,750.4 L124.6,939.9 Q124.6,949 119.7,949.1 Q117,954.5 111.7,954.5 L93.1,956.6 L66.6,961.1 L41.7,966.5 Z" fill="#FFC9CE" />
<path d="M153.3,750.6 L406.3,750.6 L406.3,895 C406.3,928.7 378.7,956 345,956 L210.3,955.5 C178.8,955.5 153.3,929.5 153.3,898 Z" fill="#E3CBE7" />
<path d="M441.6,750.6 L522.6,750.6 L522.6,980 L520.2,979.7 L494.4,976.9 L476,975.1 L462,974 C450,972 442,960 442,946.6 Z" fill="#CCCCFF" />
<polyline points="130.0,750.4 130.0,765.0 133.8,788.0 133.8,858.0 136.0,862.0 136.0,890.0 138.3,900.0 142.3,926.6 146.3,953.1 150.3,979.7 152.9,995.1" fill="none" stroke="#FFFFFF" stroke-width="1.6" />
<polyline points="439.1,750.4 435.8,775.9 432.4,803.8 430.2,859.6 427.4,887.5 424.6,915.4 420.4,943.3 416.3,971.2 414.0,995.1" fill="none" stroke="#FFFFFF" stroke-width="1.6" />
<rect x="520.1" y="750.6" width="2.5" height="244.8" fill="#fff"/>
</g>
<line x1="41.7" y1="760.3" x2="522.6" y2="760.3" stroke="#CFC8D0" stroke-width="1" opacity="0.55"/>
<line x1="41.7" y1="786.4" x2="522.6" y2="786.4" stroke="#CFC8D0" stroke-width="1" opacity="0.55"/>
<line x1="41.7" y1="812.6" x2="522.6" y2="812.6" stroke="#CFC8D0" stroke-width="1" opacity="0.55"/>
<line x1="41.7" y1="838.7" x2="522.6" y2="838.7" stroke="#CFC8D0" stroke-width="1" opacity="0.55"/>
<line x1="41.7" y1="864.8" x2="522.6" y2="864.8" stroke="#CFC8D0" stroke-width="1" opacity="0.55"/>
<line x1="41.7" y1="890.9" x2="522.6" y2="890.9" stroke="#CFC8D0" stroke-width="1" opacity="0.55"/>
<line x1="41.7" y1="917.0" x2="522.6" y2="917.0" stroke="#CFC8D0" stroke-width="1" opacity="0.55"/>
<line x1="41.7" y1="943.2" x2="522.6" y2="943.2" stroke="#CFC8D0" stroke-width="1" opacity="0.55"/>
<line x1="41.7" y1="969.3" x2="522.6" y2="969.3" stroke="#CFC8D0" stroke-width="1" opacity="0.55"/>
<line x1="41.7" y1="1021.5" x2="522.6" y2="1021.5" stroke="#DADADE" stroke-width="1"/>
<line x1="161.9" y1="750.6" x2="161.9" y2="995.4" stroke="#CFC8D0" stroke-width="1" opacity="0.55"/>
<line x1="161.9" y1="995.4" x2="161.9" y2="1037.2" stroke="#DADADE" stroke-width="1"/>
<line x1="241.8" y1="750.6" x2="241.8" y2="995.4" stroke="#CFC8D0" stroke-width="1" opacity="0.55"/>
<line x1="241.8" y1="995.4" x2="241.8" y2="1037.2" stroke="#DADADE" stroke-width="1"/>
<line x1="321.6" y1="750.6" x2="321.6" y2="995.4" stroke="#CFC8D0" stroke-width="1" opacity="0.55"/>
<line x1="321.6" y1="995.4" x2="321.6" y2="1037.2" stroke="#DADADE" stroke-width="1"/>
<line x1="401.5" y1="750.6" x2="401.5" y2="995.4" stroke="#CFC8D0" stroke-width="1" opacity="0.55"/>
<line x1="401.5" y1="995.4" x2="401.5" y2="1037.2" stroke="#DADADE" stroke-width="1"/>
<line x1="481.4" y1="750.6" x2="481.4" y2="995.4" stroke="#CFC8D0" stroke-width="1" opacity="0.55"/>
<line x1="481.4" y1="995.4" x2="481.4" y2="1037.2" stroke="#DADADE" stroke-width="1"/>
<g clip-path="url(#cc)">
<path d="M153.3,750.6 L406.3,750.6 L406.3,895 C406.3,928.7 378.7,956 345,956 L210.3,955.5 C178.8,955.5 153.3,929.5 153.3,898 Z" fill="#E3CBE7" opacity="0.8"/>
<path d="M441.6,750.6 L522.6,750.6 L522.6,980 L520.2,979.7 L494.4,976.9 L476,975.1 L462,974 C450,972 442,960 442,946.6 Z" fill="#CCCCFF" opacity="0.8"/>
<rect x="520.1" y="750.6" width="2.5" height="244.8" fill="#fff"/>
</g>
<line x1="82.0" y1="750.6" x2="82.0" y2="1037.2" stroke="#3a3a3a" stroke-width="1.2"/>
<line x1="41.7" y1="995.4" x2="522.6" y2="995.4" stroke="#222" stroke-width="1.3"/>
<ellipse cx="88.9" cy="829.3" rx="6.5" ry="32.3" transform="rotate(2.0 88.9 829.3)" fill="none" stroke="#B02040" stroke-width="1"/>
<path d="M86.9 829.3h4M88.9 827.3v4" stroke="#B02040" stroke-width="0.8"/>
<ellipse cx="279.8" cy="827.8" rx="67.5" ry="33.0" transform="rotate(0.0 279.8 827.8)" fill="none" stroke="#8A2A8A" stroke-width="1"/>
<path d="M277.8 827.8h4M279.8 825.8v4" stroke="#8A2A8A" stroke-width="0.8"/>
<ellipse cx="479.6" cy="847.6" rx="18.1" ry="26.5" transform="rotate(0.0 479.6 847.6)" fill="none" stroke="#2A2A80" stroke-width="1"/>
<path d="M477.6 847.6h4M479.6 845.6v4" stroke="#2A2A80" stroke-width="0.8"/>
<circle cx="89.1" cy="847.4" r="2.3" fill="#FF0000"/>
<circle cx="90.3" cy="832.5" r="2.3" fill="#FF0000"/>
<circle cx="88.4" cy="823.1" r="2.3" fill="#FF0000"/>
<circle cx="87.0" cy="810.4" r="2.3" fill="#FF0000"/>
<circle cx="87.9" cy="850.6" r="2.3" fill="#FF0000"/>
<circle cx="90.7" cy="836.2" r="2.3" fill="#FF0000"/>
<circle cx="88.5" cy="851.8" r="2.3" fill="#FF0000"/>
<circle cx="91.2" cy="826.1" r="2.3" fill="#FF0000"/>
<circle cx="90.4" cy="816.0" r="2.3" fill="#FF0000"/>
<circle cx="87.6" cy="823.2" r="2.3" fill="#FF0000"/>
<circle cx="90.5" cy="819.1" r="2.3" fill="#FF0000"/>
<circle cx="87.5" cy="815.5" r="2.3" fill="#FF0000"/>
<circle cx="88.0" cy="835.8" r="2.3" fill="#FF0000"/>
<circle cx="90.3" cy="826.9" r="2.3" fill="#FF0000"/>
<circle cx="85.7" cy="815.1" r="2.3" fill="#FF0000"/>
<circle cx="87.0" cy="838.6" r="2.3" fill="#FF0000"/>
<circle cx="87.4" cy="845.6" r="2.3" fill="#FF0000"/>
<circle cx="85.4" cy="828.9" r="2.3" fill="#FF0000"/>
<circle cx="86.6" cy="827.4" r="2.3" fill="#FF0000"/>
<circle cx="91.0" cy="831.0" r="2.3" fill="#FF0000"/>
<circle cx="87.3" cy="820.1" r="2.3" fill="#FF0000"/>
<circle cx="88.8" cy="839.9" r="2.3" fill="#FF0000"/>
<circle cx="89.9" cy="821.4" r="2.3" fill="#FF0000"/>
<circle cx="87.5" cy="830.8" r="2.3" fill="#FF0000"/>
<circle cx="90.1" cy="832.3" r="2.3" fill="#FF0000"/>
<circle cx="87.1" cy="851.6" r="2.3" fill="#FF0000"/>
<circle cx="90.9" cy="832.7" r="2.3" fill="#FF0000"/>
<circle cx="87.9" cy="807.7" r="2.3" fill="#FF0000"/>
<circle cx="90.4" cy="834.7" r="2.3" fill="#FF0000"/>
<circle cx="87.5" cy="830.4" r="2.3" fill="#FF0000"/>
<circle cx="89.9" cy="826.3" r="2.3" fill="#FF0000"/>
<circle cx="86.8" cy="833.2" r="2.3" fill="#FF0000"/>
<circle cx="89.3" cy="808.6" r="2.3" fill="#FF0000"/>
<circle cx="90.3" cy="843.9" r="2.3" fill="#FF0000"/>
<circle cx="85.8" cy="830.8" r="2.3" fill="#FF0000"/>
<circle cx="86.8" cy="828.8" r="2.3" fill="#FF0000"/>
<circle cx="85.4" cy="820.2" r="2.3" fill="#FF0000"/>
<circle cx="86.6" cy="815.5" r="2.3" fill="#FF0000"/>
<circle cx="89.2" cy="835.4" r="2.3" fill="#FF0000"/>
<circle cx="88.4" cy="847.5" r="2.3" fill="#FF0000"/>
<circle cx="86.6" cy="816.1" r="2.3" fill="#FF0000"/>
<circle cx="88.1" cy="846.2" r="2.3" fill="#FF0000"/>
<circle cx="90.5" cy="823.0" r="2.3" fill="#FF0000"/>
<circle cx="88.7" cy="808.4" r="2.3" fill="#FF0000"/>
<circle cx="91.3" cy="835.8" r="2.3" fill="#FF0000"/>
<circle cx="90.0" cy="810.3" r="2.3" fill="#FF0000"/>
<circle cx="89.8" cy="827.8" r="2.3" fill="#FF0000"/>
<circle cx="88.3" cy="830.9" r="2.3" fill="#FF0000"/>
<circle cx="91.1" cy="825.5" r="2.3" fill="#FF0000"/>
<circle cx="88.0" cy="833.0" r="2.3" fill="#FF0000"/>
<circle cx="89.4" cy="818.5" r="2.3" fill="#FF0000"/>
<circle cx="86.9" cy="810.8" r="2.3" fill="#FF0000"/>
<circle cx="86.4" cy="821.7" r="2.3" fill="#FF0000"/>
<circle cx="91.2" cy="834.1" r="2.3" fill="#FF0000"/>
<circle cx="90.4" cy="821.4" r="2.3" fill="#FF0000"/>
<circle cx="90.4" cy="848.0" r="2.3" fill="#FF0000"/>
<circle cx="87.7" cy="835.9" r="2.3" fill="#FF0000"/>
<circle cx="88.3" cy="836.0" r="2.3" fill="#FF0000"/>
<circle cx="85.8" cy="817.0" r="2.3" fill="#FF0000"/>
<circle cx="88.3" cy="825.3" r="2.3" fill="#FF0000"/>
<circle cx="87.6" cy="832.6" r="2.3" fill="#FF0000"/>
<circle cx="90.5" cy="838.7" r="2.3" fill="#FF0000"/>
<circle cx="87.4" cy="836.7" r="2.3" fill="#FF0000"/>
<circle cx="90.0" cy="851.9" r="2.3" fill="#FF0000"/>
<circle cx="89.4" cy="844.6" r="2.3" fill="#FF0000"/>
<circle cx="87.6" cy="826.6" r="2.3" fill="#FF0000"/>
<circle cx="91.0" cy="838.1" r="2.3" fill="#FF0000"/>
<circle cx="90.0" cy="839.5" r="2.3" fill="#FF0000"/>
<circle cx="87.3" cy="842.5" r="2.3" fill="#FF0000"/>
<circle cx="86.3" cy="838.6" r="2.3" fill="#FF0000"/>
<circle cx="85.6" cy="821.1" r="2.3" fill="#FF0000"/>
<circle cx="90.2" cy="839.0" r="2.3" fill="#FF0000"/>
<circle cx="90.7" cy="816.1" r="2.3" fill="#FF0000"/>
<circle cx="90.5" cy="831.0" r="2.3" fill="#FF0000"/>
<circle cx="86.8" cy="839.3" r="2.3" fill="#FF0000"/>
<circle cx="87.6" cy="813.6" r="2.3" fill="#FF0000"/>
<circle cx="90.3" cy="823.2" r="2.3" fill="#FF0000"/>
<circle cx="85.7" cy="819.6" r="2.3" fill="#FF0000"/>
<circle cx="86.0" cy="828.6" r="2.3" fill="#FF0000"/>
<circle cx="90.4" cy="832.1" r="2.3" fill="#FF0000"/>
<circle cx="88.6" cy="830.0" r="2.3" fill="#FF0000"/>
<circle cx="88.0" cy="821.2" r="2.3" fill="#FF0000"/>
<circle cx="89.7" cy="820.9" r="2.3" fill="#FF0000"/>
<circle cx="87.9" cy="824.6" r="2.3" fill="#FF0000"/>
<circle cx="90.3" cy="815.2" r="2.3" fill="#FF0000"/>
<circle cx="86.5" cy="808.7" r="2.3" fill="#FF0000"/>
<circle cx="85.8" cy="809.9" r="2.3" fill="#FF0000"/>
<circle cx="90.4" cy="817.4" r="2.3" fill="#FF0000"/>
<circle cx="87.6" cy="838.4" r="2.3" fill="#FF0000"/>
<circle cx="86.6" cy="816.0" r="2.3" fill="#FF0000"/>
<circle cx="90.0" cy="842.9" r="2.3" fill="#FF0000"/>
<circle cx="90.8" cy="826.2" r="2.3" fill="#FF0000"/>
<circle cx="85.9" cy="808.9" r="2.3" fill="#FF0000"/>
<circle cx="89.2" cy="814.4" r="2.3" fill="#FF0000"/>
<circle cx="88.8" cy="851.5" r="2.3" fill="#FF0000"/>
<circle cx="89.6" cy="850.2" r="2.3" fill="#FF0000"/>
<circle cx="90.5" cy="835.2" r="2.3" fill="#FF0000"/>
<circle cx="88.4" cy="827.8" r="2.3" fill="#FF0000"/>
<circle cx="90.1" cy="833.3" r="2.3" fill="#FF0000"/>
<circle cx="90.8" cy="835.5" r="2.3" fill="#FF0000"/>
<circle cx="88.3" cy="829.8" r="2.3" fill="#FF0000"/>
<circle cx="88.2" cy="822.3" r="2.3" fill="#FF0000"/>
<circle cx="87.9" cy="852.4" r="2.3" fill="#FF0000"/>
<circle cx="89.5" cy="835.3" r="2.3" fill="#FF0000"/>
<circle cx="90.7" cy="831.1" r="2.3" fill="#FF0000"/>
<circle cx="87.5" cy="823.2" r="2.3" fill="#FF0000"/>
<circle cx="85.7" cy="839.5" r="2.3" fill="#FF0000"/>
<circle cx="88.0" cy="847.1" r="2.3" fill="#FF0000"/>
<circle cx="89.7" cy="832.9" r="2.3" fill="#FF0000"/>
<circle cx="87.4" cy="849.3" r="2.3" fill="#FF0000"/>
<circle cx="84.0" cy="792.0" r="2.3" fill="#FF0000"/>
<circle cx="86.0" cy="799.5" r="2.3" fill="#FF0000"/>
<circle cx="89.2" cy="798.5" r="2.3" fill="#FF0000"/>
<circle cx="90.2" cy="804.2" r="2.3" fill="#FF0000"/>
<circle cx="86.6" cy="803.1" r="2.3" fill="#FF0000"/>
<circle cx="83.5" cy="807.3" r="2.3" fill="#FF0000"/>
<circle cx="98.0" cy="824.3" r="2.3" fill="#FF0000"/>
<circle cx="93.3" cy="817.6" r="2.3" fill="#FF0000"/>
<circle cx="87.1" cy="866.8" r="2.3" fill="#FF0000"/>
<circle cx="91.2" cy="876.6" r="2.3" fill="#FF0000"/>
<circle cx="87.1" cy="888.3" r="2.3" fill="#FF0000"/>
<rect x="41.7" y="750.6" width="480.9" height="286.6" fill="none" stroke="#222" stroke-width="1.2"/>
<line x1="41.7" y1="760.3" x2="44.7" y2="760.3" stroke="#222" stroke-width="1.2"/>
<text x="39.9" y="763.3" font-size="8.2" fill="#111" text-anchor="end" textLength="15.5" lengthAdjust="spacingAndGlyphs" >1.80</text>
<line x1="41.7" y1="786.4" x2="44.7" y2="786.4" stroke="#222" stroke-width="1.2"/>
<text x="39.9" y="789.4" font-size="8.2" fill="#111" text-anchor="end" textLength="15.5" lengthAdjust="spacingAndGlyphs" >1.60</text>
<line x1="41.7" y1="812.6" x2="44.7" y2="812.6" stroke="#222" stroke-width="1.2"/>
<text x="39.9" y="815.5" font-size="8.2" fill="#111" text-anchor="end" textLength="15.5" lengthAdjust="spacingAndGlyphs" >1.40</text>
<line x1="41.7" y1="838.7" x2="44.7" y2="838.7" stroke="#222" stroke-width="1.2"/>
<text x="39.9" y="841.6" font-size="8.2" fill="#111" text-anchor="end" textLength="15.5" lengthAdjust="spacingAndGlyphs" >1.20</text>
<line x1="41.7" y1="864.8" x2="44.7" y2="864.8" stroke="#222" stroke-width="1.2"/>
<text x="39.9" y="867.8" font-size="8.2" fill="#111" text-anchor="end" textLength="4.4" lengthAdjust="spacingAndGlyphs" >1</text>
<line x1="41.7" y1="890.9" x2="44.7" y2="890.9" stroke="#222" stroke-width="1.2"/>
<text x="39.9" y="893.9" font-size="8.2" fill="#111" text-anchor="end" textLength="15.5" lengthAdjust="spacingAndGlyphs" >0.80</text>
<line x1="41.7" y1="917.0" x2="44.7" y2="917.0" stroke="#222" stroke-width="1.2"/>
<text x="39.9" y="920.0" font-size="8.2" fill="#111" text-anchor="end" textLength="15.5" lengthAdjust="spacingAndGlyphs" >0.60</text>
<line x1="41.7" y1="943.2" x2="44.7" y2="943.2" stroke="#222" stroke-width="1.2"/>
<text x="39.9" y="946.1" font-size="8.2" fill="#111" text-anchor="end" textLength="15.5" lengthAdjust="spacingAndGlyphs" >0.40</text>
<line x1="41.7" y1="969.3" x2="44.7" y2="969.3" stroke="#222" stroke-width="1.2"/>
<text x="39.9" y="972.2" font-size="8.2" fill="#111" text-anchor="end" textLength="15.5" lengthAdjust="spacingAndGlyphs" >0.20</text>
<line x1="41.7" y1="995.4" x2="44.7" y2="995.4" stroke="#222" stroke-width="1.2"/>
<text x="39.9" y="998.4" font-size="8.2" fill="#111" text-anchor="end" textLength="4.4" lengthAdjust="spacingAndGlyphs" >0</text>
<line x1="41.7" y1="1021.5" x2="44.7" y2="1021.5" stroke="#222" stroke-width="1.2"/>
<text x="39.9" y="1024.5" font-size="8.2" fill="#111" text-anchor="end" textLength="18.1" lengthAdjust="spacingAndGlyphs" >-0.20</text>
<line x1="82.0" y1="1037.2" x2="82.0" y2="1033.7" stroke="#222" stroke-width="1.2"/>
<text x="82.0" y="1045.3" font-size="8.2" fill="#111" text-anchor="middle" textLength="4.4" lengthAdjust="spacingAndGlyphs" >0</text>
<line x1="161.9" y1="1037.2" x2="161.9" y2="1033.7" stroke="#222" stroke-width="1.2"/>
<text x="161.9" y="1045.3" font-size="8.2" fill="#111" text-anchor="middle" textLength="15.5" lengthAdjust="spacingAndGlyphs" >0.20</text>
<line x1="241.8" y1="1037.2" x2="241.8" y2="1033.7" stroke="#222" stroke-width="1.2"/>
<text x="241.8" y="1045.3" font-size="8.2" fill="#111" text-anchor="middle" textLength="15.5" lengthAdjust="spacingAndGlyphs" >0.40</text>
<line x1="321.6" y1="1037.2" x2="321.6" y2="1033.7" stroke="#222" stroke-width="1.2"/>
<text x="321.6" y="1045.3" font-size="8.2" fill="#111" text-anchor="middle" textLength="15.5" lengthAdjust="spacingAndGlyphs" >0.60</text>
<line x1="401.5" y1="1037.2" x2="401.5" y2="1033.7" stroke="#222" stroke-width="1.2"/>
<text x="401.5" y="1045.3" font-size="8.2" fill="#111" text-anchor="middle" textLength="15.5" lengthAdjust="spacingAndGlyphs" >0.80</text>
<line x1="481.4" y1="1037.2" x2="481.4" y2="1033.7" stroke="#222" stroke-width="1.2"/>
<text x="481.4" y="1045.3" font-size="8.2" fill="#111" text-anchor="middle" textLength="4.4" lengthAdjust="spacingAndGlyphs" >1</text>
<text x="75.0" y="1010.5" font-size="14.0" fill="#D8182C" textLength="26.6" lengthAdjust="spacingAndGlyphs" stroke="#D8182C" stroke-width="0.2">129</text>
<text x="275.3" y="1010.1" font-size="14.0" fill="#7A1E6E" textLength="8.8" lengthAdjust="spacingAndGlyphs" stroke="#7A1E6E" stroke-width="0.2">0</text>
<text x="476.0" y="1010.2" font-size="14.0" fill="#2424B4" textLength="8.8" lengthAdjust="spacingAndGlyphs" stroke="#2424B4" stroke-width="0.2">0</text>
<text x="46.5" y="734.0" font-size="16.5" fill="#000" font-weight="bold" >(c)</text>
<text x="85.0" y="734.7" font-size="20.0" fill="#000" font-style="italic" textLength="107.1" lengthAdjust="spacingAndGlyphs" >B. oleracea</text>
<text x="210.3" y="741.8" font-size="12.2" fill="#111" textLength="141.5" lengthAdjust="spacingAndGlyphs" >Bn-scaff_23108_1-p362932</text>
<text x="0" y="0" font-size="11.0" fill="#111" text-anchor="middle" transform="translate(13.3 893.0) rotate(-90)">Norm R</text>
<text x="252.5" y="1057.8" font-size="11.0" fill="#111" textLength="57.4" lengthAdjust="spacingAndGlyphs" >Norm Theta</text>
</svg>
</body></html>
